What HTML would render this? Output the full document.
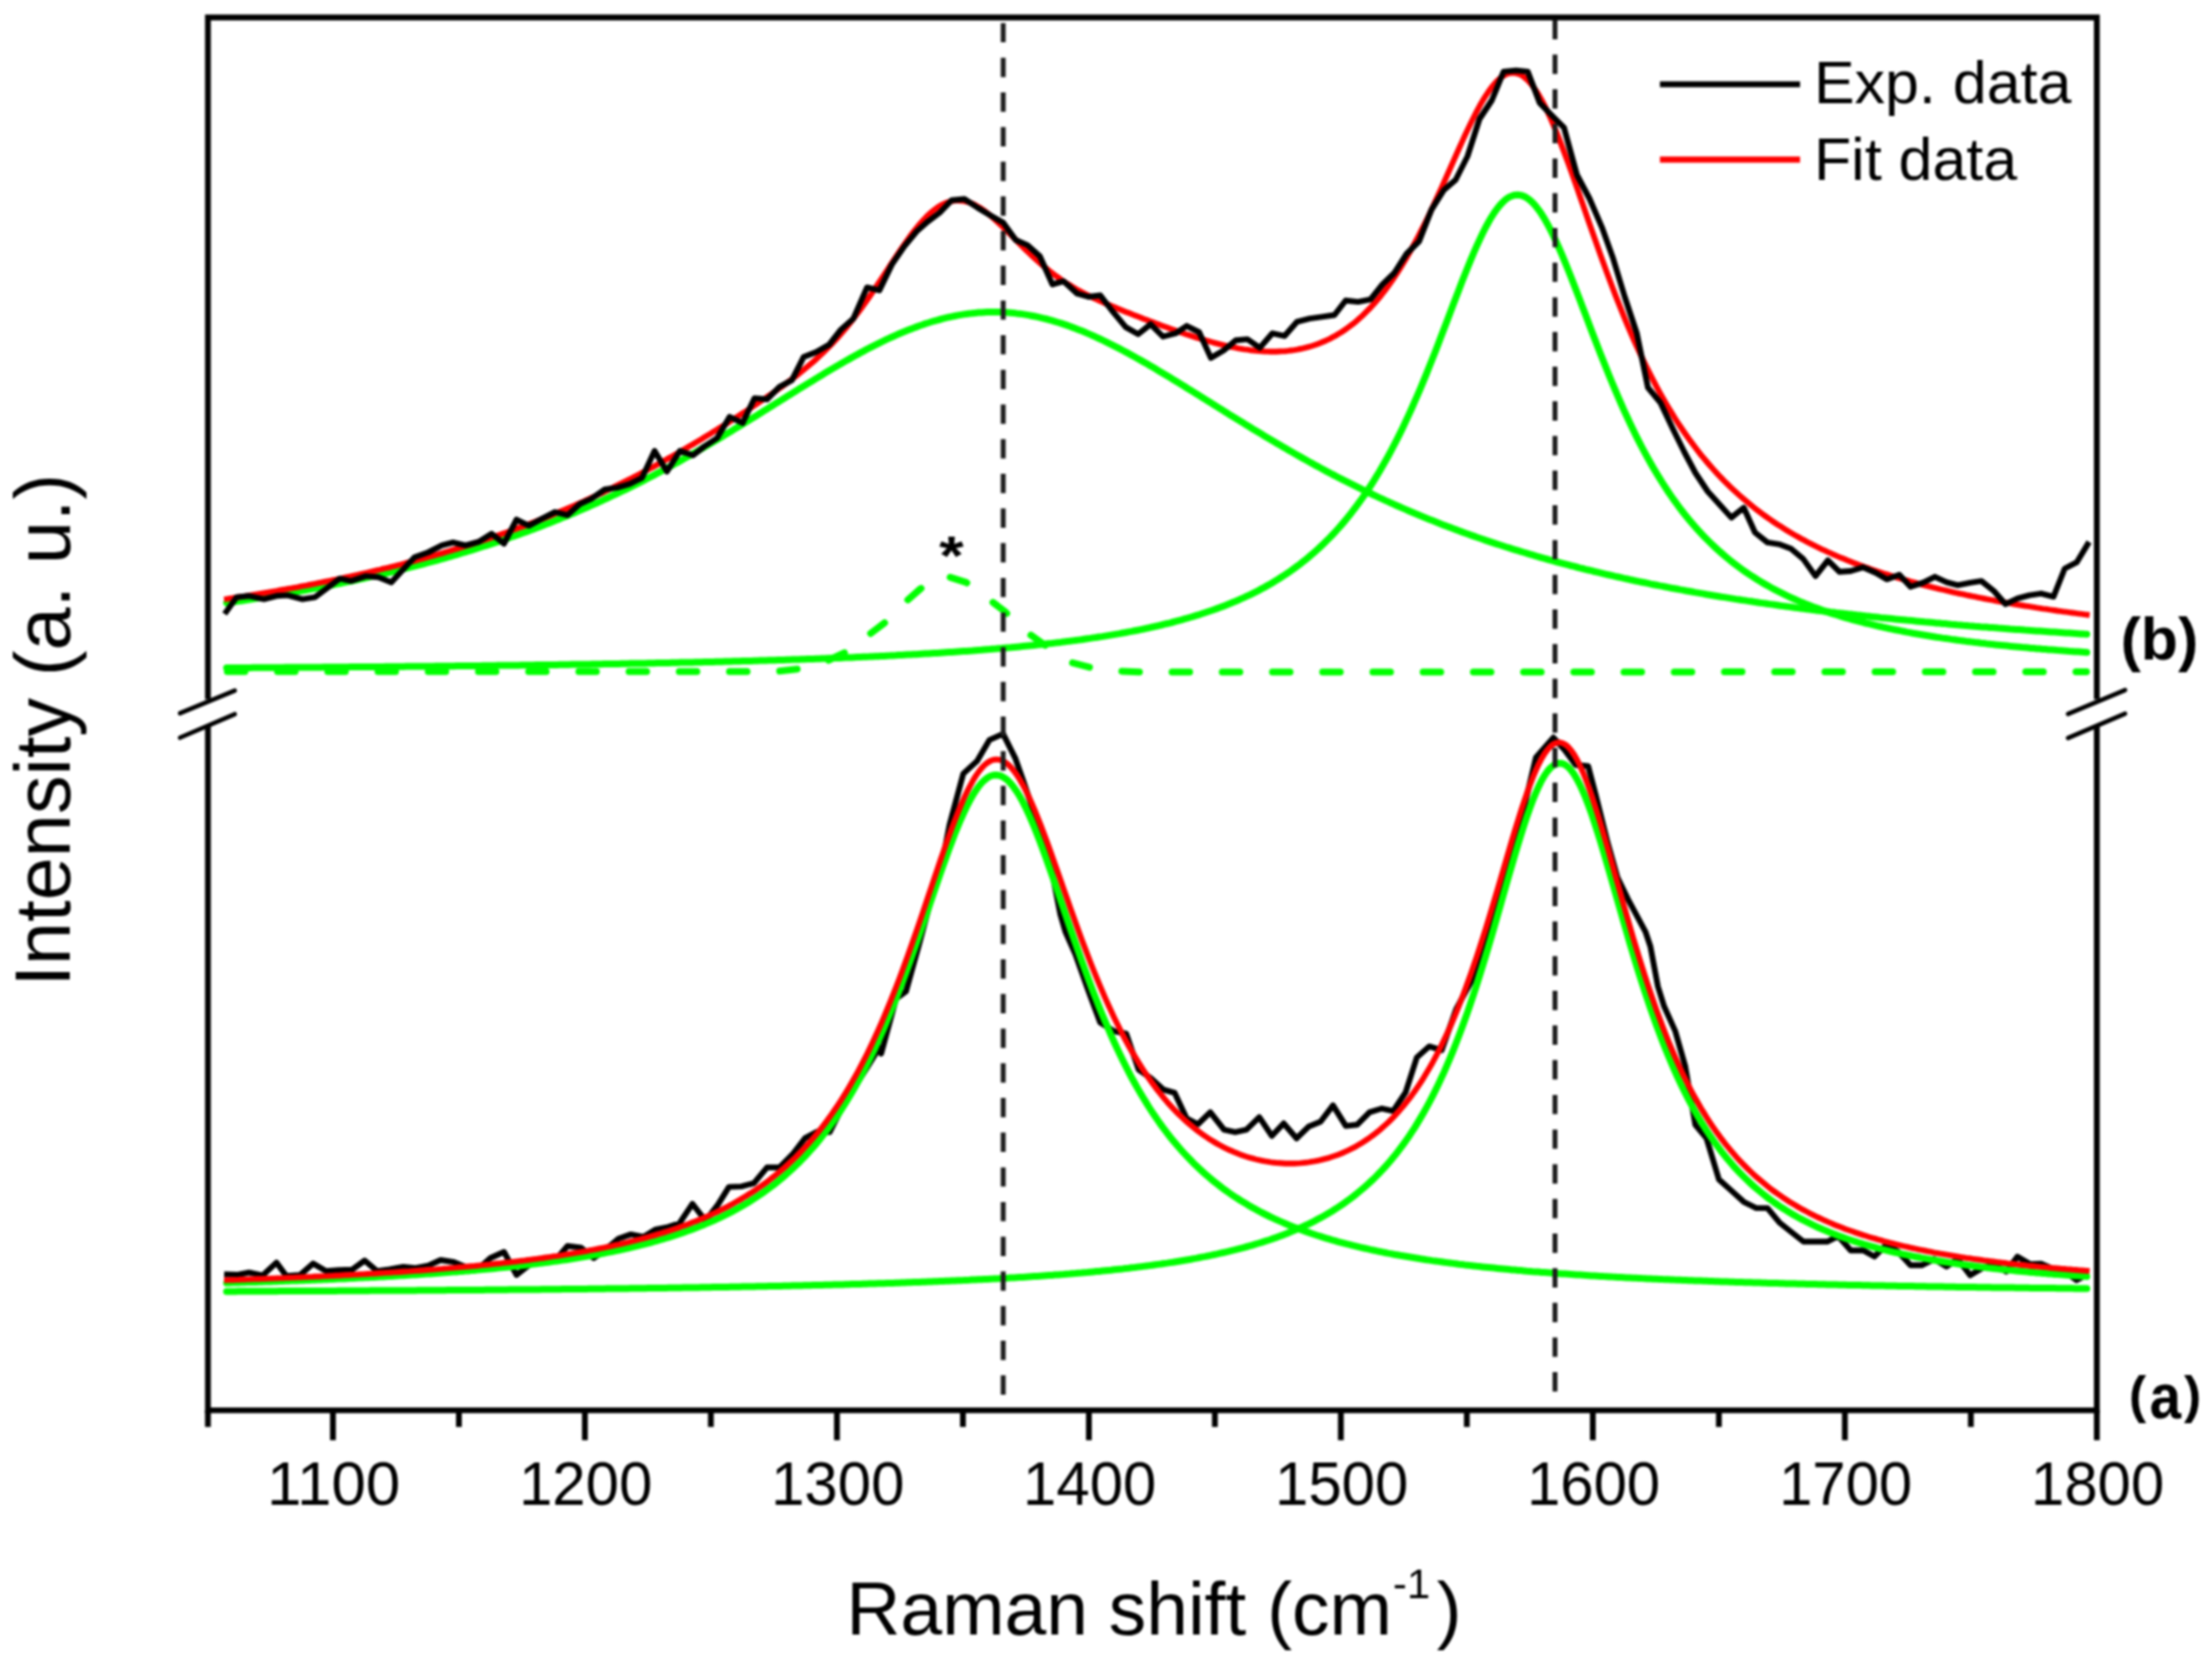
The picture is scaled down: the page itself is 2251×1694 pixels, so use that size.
<!DOCTYPE html>
<html lang="en">
<head>
<meta charset="utf-8">
<title>Raman spectra: experimental and fitted data</title>
<style>
html,body{margin:0;padding:0;background:#fff;}
body{width:2251px;height:1694px;overflow:hidden;}
svg{display:block;}
</style>
</head>
<body>
<svg width="2251" height="1694" viewBox="0 0 2251 1694">
<defs><filter id="soft" x="0" y="0" width="100%" height="100%" filterUnits="userSpaceOnUse" color-interpolation-filters="sRGB"><feGaussianBlur stdDeviation="0.8"/></filter></defs>
<rect width="2251" height="1694" fill="#fff"/>
<g filter="url(#soft)">
<rect width="2251" height="1694" fill="#fff"/>
<g fill="none" stroke-linejoin="round" stroke-linecap="butt">
<path id="star-b" d="M228.0,683.3 L788.6,683.3 L813.9,680.5 L841.8,672.4 L862.0,662.8 L879.7,649.1 L900.0,633.9 L916.5,616.7 L936.7,599.0 L953.2,588.4 L962.0,585.8 L983.5,592.7 L1003.8,607.8 L1022.8,622.3 L1043.0,642.0 L1064.6,657.2 L1088.6,673.7 L1112.7,680.0 L1139.2,682.8 L1163.3,683.8 L2123.3,683.5" stroke="#00ff00" stroke-width="7.0" stroke-linecap="round" stroke-dasharray="17.9 33.2" stroke-dashoffset="-3.35"/>
<path id="d-b" d="M230.6,613.4 L233.6,613.0 L236.6,612.5 L239.6,612.1 L242.6,611.6 L245.6,611.2 L248.6,610.7 L251.6,610.3 L254.6,609.8 L257.6,609.3 L260.6,608.9 L263.6,608.4 L266.6,607.9 L269.6,607.4 L272.6,606.9 L275.6,606.4 L278.6,605.9 L281.6,605.4 L284.6,604.9 L287.6,604.4 L290.6,603.9 L293.6,603.4 L296.6,602.9 L299.6,602.3 L302.6,601.8 L305.6,601.2 L308.6,600.7 L311.6,600.2 L314.6,599.6 L317.6,599.0 L320.6,598.5 L323.6,597.9 L326.6,597.3 L329.6,596.8 L332.6,596.2 L335.6,595.6 L338.6,595.0 L341.6,594.4 L344.6,593.8 L347.6,593.2 L350.6,592.5 L353.6,591.9 L356.6,591.3 L359.6,590.7 L362.6,590.0 L365.6,589.4 L368.6,588.7 L371.6,588.1 L374.6,587.4 L377.6,586.7 L380.6,586.0 L383.6,585.4 L386.6,584.7 L389.6,584.0 L392.6,583.3 L395.6,582.6 L398.6,581.8 L401.6,581.1 L404.6,580.4 L407.6,579.7 L410.6,578.9 L413.6,578.2 L416.6,577.4 L419.6,576.7 L422.6,575.9 L425.6,575.1 L428.6,574.3 L431.6,573.5 L434.6,572.7 L437.6,571.9 L440.6,571.1 L443.6,570.3 L446.6,569.5 L449.6,568.6 L452.6,567.8 L455.6,566.9 L458.6,566.1 L461.6,565.2 L464.6,564.3 L467.6,563.4 L470.6,562.5 L473.6,561.6 L476.6,560.7 L479.6,559.8 L482.6,558.9 L485.6,557.9 L488.6,557.0 L491.6,556.0 L494.6,555.1 L497.6,554.1 L500.6,553.1 L503.6,552.1 L506.6,551.1 L509.6,550.1 L512.6,549.1 L515.6,548.1 L518.6,547.0 L521.6,546.0 L524.6,544.9 L527.6,543.9 L530.6,542.8 L533.6,541.7 L536.6,540.6 L539.6,539.5 L542.6,538.4 L545.6,537.2 L548.6,536.1 L551.6,535.0 L554.6,533.8 L557.6,532.6 L560.6,531.5 L563.6,530.3 L566.6,529.1 L569.6,527.9 L572.6,526.6 L575.6,525.4 L578.6,524.2 L581.6,522.9 L584.6,521.7 L587.6,520.4 L590.6,519.1 L593.6,517.8 L596.6,516.5 L599.6,515.2 L602.6,513.8 L605.6,512.5 L608.6,511.2 L611.6,509.8 L614.6,508.4 L617.6,507.0 L620.6,505.6 L623.6,504.2 L626.6,502.8 L629.6,501.4 L632.6,499.9 L635.6,498.5 L638.6,497.0 L641.6,495.5 L644.6,494.0 L647.6,492.5 L650.6,491.0 L653.6,489.5 L656.6,488.0 L659.6,486.4 L662.6,484.9 L665.6,483.3 L668.6,481.7 L671.6,480.1 L674.6,478.5 L677.6,476.9 L680.6,475.3 L683.6,473.7 L686.6,472.0 L689.6,470.4 L692.6,468.7 L695.6,467.0 L698.6,465.3 L701.6,463.6 L704.6,461.9 L707.6,460.2 L710.6,458.5 L713.6,456.8 L716.6,455.0 L719.6,453.3 L722.6,451.5 L725.6,449.7 L728.6,448.0 L731.6,446.2 L734.6,444.4 L737.6,442.6 L740.6,440.8 L743.6,439.0 L746.6,437.1 L749.6,435.3 L752.6,433.5 L755.6,431.6 L758.6,429.8 L761.6,427.9 L764.6,426.1 L767.6,424.2 L770.6,422.4 L773.6,420.5 L776.6,418.6 L779.6,416.8 L782.6,414.9 L785.6,413.0 L788.6,411.1 L791.6,409.3 L794.6,407.4 L797.6,405.5 L800.6,403.6 L803.6,401.8 L806.6,399.9 L809.6,398.0 L812.6,396.1 L815.6,394.3 L818.6,392.4 L821.6,390.6 L824.6,388.7 L827.6,386.9 L830.6,385.1 L833.6,383.2 L836.6,381.4 L839.6,379.6 L842.6,377.8 L845.6,376.0 L848.6,374.3 L851.6,372.5 L854.6,370.8 L857.6,369.0 L860.6,367.3 L863.6,365.6 L866.6,363.9 L869.6,362.2 L872.6,360.6 L875.6,358.9 L878.6,357.3 L881.6,355.7 L884.6,354.2 L887.6,352.6 L890.6,351.1 L893.6,349.6 L896.6,348.1 L899.6,346.7 L902.6,345.2 L905.6,343.8 L908.6,342.5 L911.6,341.1 L914.6,339.8 L917.6,338.5 L920.6,337.3 L923.6,336.0 L926.6,334.9 L929.6,333.7 L932.6,332.6 L935.6,331.5 L938.6,330.5 L941.6,329.4 L944.6,328.5 L947.6,327.5 L950.6,326.6 L953.6,325.8 L956.6,325.0 L959.6,324.2 L962.6,323.4 L965.6,322.7 L968.6,322.1 L971.6,321.5 L974.6,320.9 L977.6,320.4 L980.6,319.9 L983.6,319.4 L986.6,319.1 L989.6,318.7 L992.6,318.4 L995.6,318.1 L998.6,317.9 L1001.6,317.7 L1004.6,317.6 L1007.6,317.5 L1010.6,317.5 L1013.6,317.5 L1016.6,317.6 L1019.6,317.7 L1022.6,317.8 L1025.6,318.0 L1028.6,318.2 L1031.6,318.5 L1034.6,318.9 L1037.6,319.2 L1040.6,319.6 L1043.6,320.1 L1046.6,320.6 L1049.6,321.2 L1052.6,321.8 L1055.6,322.4 L1058.6,323.1 L1061.6,323.8 L1064.6,324.5 L1067.6,325.3 L1070.6,326.2 L1073.6,327.1 L1076.6,328.0 L1079.6,328.9 L1082.6,329.9 L1085.6,330.9 L1088.6,332.0 L1091.6,333.1 L1094.6,334.2 L1097.6,335.4 L1100.6,336.6 L1103.6,337.8 L1106.6,339.1 L1109.6,340.4 L1112.6,341.7 L1115.6,343.1 L1118.6,344.5 L1121.6,345.9 L1124.6,347.3 L1127.6,348.8 L1130.6,350.3 L1133.6,351.8 L1136.6,353.3 L1139.6,354.9 L1142.6,356.5 L1145.6,358.1 L1148.6,359.7 L1151.6,361.4 L1154.6,363.0 L1157.6,364.7 L1160.6,366.4 L1163.6,368.1 L1166.6,369.8 L1169.6,371.6 L1172.6,373.3 L1175.6,375.1 L1178.6,376.9 L1181.6,378.7 L1184.6,380.5 L1187.6,382.3 L1190.6,384.1 L1193.6,385.9 L1196.6,387.7 L1199.6,389.6 L1202.6,391.4 L1205.6,393.3 L1208.6,395.2 L1211.6,397.0 L1214.6,398.9 L1217.6,400.8 L1220.6,402.6 L1223.6,404.5 L1226.6,406.4 L1229.6,408.3 L1232.6,410.1 L1235.6,412.0 L1238.6,413.9 L1241.6,415.8 L1244.6,417.6 L1247.6,419.5 L1250.6,421.4 L1253.6,423.2 L1256.6,425.1 L1259.6,426.9 L1262.6,428.8 L1265.6,430.6 L1268.6,432.5 L1271.6,434.3 L1274.6,436.2 L1277.6,438.0 L1280.6,439.8 L1283.6,441.6 L1286.6,443.4 L1289.6,445.2 L1292.6,447.0 L1295.6,448.8 L1298.6,450.6 L1301.6,452.3 L1304.6,454.1 L1307.6,455.8 L1310.6,457.6 L1313.6,459.3 L1316.6,461.0 L1319.6,462.7 L1322.6,464.4 L1325.6,466.1 L1328.6,467.8 L1331.6,469.5 L1334.6,471.1 L1337.6,472.8 L1340.6,474.4 L1343.6,476.0 L1346.6,477.7 L1349.6,479.3 L1352.6,480.9 L1355.6,482.5 L1358.6,484.0 L1361.6,485.6 L1364.6,487.1 L1367.6,488.7 L1370.6,490.2 L1373.6,491.7 L1376.6,493.2 L1379.6,494.7 L1382.6,496.2 L1385.6,497.7 L1388.6,499.1 L1391.6,500.6 L1394.6,502.0 L1397.6,503.5 L1400.6,504.9 L1403.6,506.3 L1406.6,507.7 L1409.6,509.1 L1412.6,510.4 L1415.6,511.8 L1418.6,513.1 L1421.6,514.5 L1424.6,515.8 L1427.6,517.1 L1430.6,518.4 L1433.6,519.7 L1436.6,521.0 L1439.6,522.3 L1442.6,523.5 L1445.6,524.8 L1448.6,526.0 L1451.6,527.2 L1454.6,528.4 L1457.6,529.6 L1460.6,530.8 L1463.6,532.0 L1466.6,533.2 L1469.6,534.4 L1472.6,535.5 L1475.6,536.6 L1478.6,537.8 L1481.6,538.9 L1484.6,540.0 L1487.6,541.1 L1490.6,542.2 L1493.6,543.3 L1496.6,544.4 L1499.6,545.4 L1502.6,546.5 L1505.6,547.5 L1508.6,548.5 L1511.6,549.6 L1514.6,550.6 L1517.6,551.6 L1520.6,552.6 L1523.6,553.6 L1526.6,554.5 L1529.6,555.5 L1532.6,556.5 L1535.6,557.4 L1538.6,558.4 L1541.6,559.3 L1544.6,560.2 L1547.6,561.1 L1550.6,562.0 L1553.6,562.9 L1556.6,563.8 L1559.6,564.7 L1562.6,565.6 L1565.6,566.5 L1568.6,567.3 L1571.6,568.2 L1574.6,569.0 L1577.6,569.8 L1580.6,570.7 L1583.6,571.5 L1586.6,572.3 L1589.6,573.1 L1592.6,573.9 L1595.6,574.7 L1598.6,575.5 L1601.6,576.2 L1604.6,577.0 L1607.6,577.8 L1610.6,578.5 L1613.6,579.3 L1616.6,580.0 L1619.6,580.7 L1622.6,581.5 L1625.6,582.2 L1628.6,582.9 L1631.6,583.6 L1634.6,584.3 L1637.6,585.0 L1640.6,585.7 L1643.6,586.4 L1646.6,587.0 L1649.6,587.7 L1652.6,588.4 L1655.6,589.0 L1658.6,589.7 L1661.6,590.3 L1664.6,591.0 L1667.6,591.6 L1670.6,592.2 L1673.6,592.8 L1676.6,593.4 L1679.6,594.1 L1682.6,594.7 L1685.6,595.3 L1688.6,595.9 L1691.6,596.4 L1694.6,597.0 L1697.6,597.6 L1700.6,598.2 L1703.6,598.7 L1706.6,599.3 L1709.6,599.9 L1712.6,600.4 L1715.6,601.0 L1718.6,601.5 L1721.6,602.0 L1724.6,602.6 L1727.6,603.1 L1730.6,603.6 L1733.6,604.1 L1736.6,604.7 L1739.6,605.2 L1742.6,605.7 L1745.6,606.2 L1748.6,606.7 L1751.6,607.2 L1754.6,607.6 L1757.6,608.1 L1760.6,608.6 L1763.6,609.1 L1766.6,609.6 L1769.6,610.0 L1772.6,610.5 L1775.6,610.9 L1778.6,611.4 L1781.6,611.8 L1784.6,612.3 L1787.6,612.7 L1790.6,613.2 L1793.6,613.6 L1796.6,614.0 L1799.6,614.5 L1802.6,614.9 L1805.6,615.3 L1808.6,615.7 L1811.6,616.2 L1814.6,616.6 L1817.6,617.0 L1820.6,617.4 L1823.6,617.8 L1826.6,618.2 L1829.6,618.6 L1832.6,619.0 L1835.6,619.3 L1838.6,619.7 L1841.6,620.1 L1844.6,620.5 L1847.6,620.9 L1850.6,621.2 L1853.6,621.6 L1856.6,622.0 L1859.6,622.3 L1862.6,622.7 L1865.6,623.0 L1868.6,623.4 L1871.6,623.7 L1874.6,624.1 L1877.6,624.4 L1880.6,624.8 L1883.6,625.1 L1886.6,625.4 L1889.6,625.8 L1892.6,626.1 L1895.6,626.4 L1898.6,626.8 L1901.6,627.1 L1904.6,627.4 L1907.6,627.7 L1910.6,628.0 L1913.6,628.4 L1916.6,628.7 L1919.6,629.0 L1922.6,629.3 L1925.6,629.6 L1928.6,629.9 L1931.6,630.2 L1934.6,630.5 L1937.6,630.8 L1940.6,631.1 L1943.6,631.3 L1946.6,631.6 L1949.6,631.9 L1952.6,632.2 L1955.6,632.5 L1958.6,632.8 L1961.6,633.0 L1964.6,633.3 L1967.6,633.6 L1970.6,633.9 L1973.6,634.1 L1976.6,634.4 L1979.6,634.6 L1982.6,634.9 L1985.6,635.2 L1988.6,635.4 L1991.6,635.7 L1994.6,635.9 L1997.6,636.2 L2000.6,636.4 L2003.6,636.7 L2006.6,636.9 L2009.6,637.2 L2012.6,637.4 L2015.6,637.7 L2018.6,637.9 L2021.6,638.1 L2024.6,638.4 L2027.6,638.6 L2030.6,638.8 L2033.6,639.1 L2036.6,639.3 L2039.6,639.5 L2042.6,639.7 L2045.6,640.0 L2048.6,640.2 L2051.6,640.4 L2054.6,640.6 L2057.6,640.8 L2060.6,641.1 L2063.6,641.3 L2066.6,641.5 L2069.6,641.7 L2072.6,641.9 L2075.6,642.1 L2078.6,642.3 L2081.6,642.5 L2084.6,642.7 L2087.6,642.9 L2090.6,643.1 L2093.6,643.3 L2096.6,643.5 L2099.6,643.7 L2102.6,643.9 L2105.6,644.1 L2108.6,644.3 L2111.6,644.5 L2114.6,644.7 L2117.6,644.9 L2120.6,645.1 L2123.6,645.2" stroke="#00ff00" stroke-width="7.0" stroke-linecap="round"/>
<path id="g-b" d="M230.6,679.5 L233.6,679.5 L236.6,679.5 L239.6,679.5 L242.6,679.4 L245.6,679.4 L248.6,679.4 L251.6,679.4 L254.6,679.4 L257.6,679.3 L260.6,679.3 L263.6,679.3 L266.6,679.3 L269.6,679.3 L272.6,679.3 L275.6,679.2 L278.6,679.2 L281.6,679.2 L284.6,679.2 L287.6,679.2 L290.6,679.1 L293.6,679.1 L296.6,679.1 L299.6,679.1 L302.6,679.0 L305.6,679.0 L308.6,679.0 L311.6,679.0 L314.6,679.0 L317.6,678.9 L320.6,678.9 L323.6,678.9 L326.6,678.9 L329.6,678.8 L332.6,678.8 L335.6,678.8 L338.6,678.8 L341.6,678.8 L344.6,678.7 L347.6,678.7 L350.6,678.7 L353.6,678.7 L356.6,678.6 L359.6,678.6 L362.6,678.6 L365.6,678.6 L368.6,678.5 L371.6,678.5 L374.6,678.5 L377.6,678.5 L380.6,678.4 L383.6,678.4 L386.6,678.4 L389.6,678.4 L392.6,678.3 L395.6,678.3 L398.6,678.3 L401.6,678.2 L404.6,678.2 L407.6,678.2 L410.6,678.2 L413.6,678.1 L416.6,678.1 L419.6,678.1 L422.6,678.1 L425.6,678.0 L428.6,678.0 L431.6,678.0 L434.6,677.9 L437.6,677.9 L440.6,677.9 L443.6,677.8 L446.6,677.8 L449.6,677.8 L452.6,677.8 L455.6,677.7 L458.6,677.7 L461.6,677.7 L464.6,677.6 L467.6,677.6 L470.6,677.6 L473.6,677.5 L476.6,677.5 L479.6,677.5 L482.6,677.4 L485.6,677.4 L488.6,677.4 L491.6,677.3 L494.6,677.3 L497.6,677.3 L500.6,677.2 L503.6,677.2 L506.6,677.1 L509.6,677.1 L512.6,677.1 L515.6,677.0 L518.6,677.0 L521.6,677.0 L524.6,676.9 L527.6,676.9 L530.6,676.8 L533.6,676.8 L536.6,676.8 L539.6,676.7 L542.6,676.7 L545.6,676.6 L548.6,676.6 L551.6,676.6 L554.6,676.5 L557.6,676.5 L560.6,676.4 L563.6,676.4 L566.6,676.4 L569.6,676.3 L572.6,676.3 L575.6,676.2 L578.6,676.2 L581.6,676.1 L584.6,676.1 L587.6,676.0 L590.6,676.0 L593.6,676.0 L596.6,675.9 L599.6,675.9 L602.6,675.8 L605.6,675.8 L608.6,675.7 L611.6,675.7 L614.6,675.6 L617.6,675.6 L620.6,675.5 L623.6,675.5 L626.6,675.4 L629.6,675.4 L632.6,675.3 L635.6,675.2 L638.6,675.2 L641.6,675.1 L644.6,675.1 L647.6,675.0 L650.6,675.0 L653.6,674.9 L656.6,674.9 L659.6,674.8 L662.6,674.7 L665.6,674.7 L668.6,674.6 L671.6,674.6 L674.6,674.5 L677.6,674.4 L680.6,674.4 L683.6,674.3 L686.6,674.3 L689.6,674.2 L692.6,674.1 L695.6,674.1 L698.6,674.0 L701.6,673.9 L704.6,673.9 L707.6,673.8 L710.6,673.7 L713.6,673.7 L716.6,673.6 L719.6,673.5 L722.6,673.4 L725.6,673.4 L728.6,673.3 L731.6,673.2 L734.6,673.2 L737.6,673.1 L740.6,673.0 L743.6,672.9 L746.6,672.8 L749.6,672.8 L752.6,672.7 L755.6,672.6 L758.6,672.5 L761.6,672.4 L764.6,672.4 L767.6,672.3 L770.6,672.2 L773.6,672.1 L776.6,672.0 L779.6,671.9 L782.6,671.8 L785.6,671.7 L788.6,671.7 L791.6,671.6 L794.6,671.5 L797.6,671.4 L800.6,671.3 L803.6,671.2 L806.6,671.1 L809.6,671.0 L812.6,670.9 L815.6,670.8 L818.6,670.7 L821.6,670.6 L824.6,670.5 L827.6,670.4 L830.6,670.3 L833.6,670.2 L836.6,670.0 L839.6,669.9 L842.6,669.8 L845.6,669.7 L848.6,669.6 L851.6,669.5 L854.6,669.4 L857.6,669.2 L860.6,669.1 L863.6,669.0 L866.6,668.9 L869.6,668.7 L872.6,668.6 L875.6,668.5 L878.6,668.3 L881.6,668.2 L884.6,668.1 L887.6,667.9 L890.6,667.8 L893.6,667.7 L896.6,667.5 L899.6,667.4 L902.6,667.2 L905.6,667.1 L908.6,666.9 L911.6,666.8 L914.6,666.6 L917.6,666.5 L920.6,666.3 L923.6,666.1 L926.6,666.0 L929.6,665.8 L932.6,665.7 L935.6,665.5 L938.6,665.3 L941.6,665.1 L944.6,665.0 L947.6,664.8 L950.6,664.6 L953.6,664.4 L956.6,664.2 L959.6,664.0 L962.6,663.8 L965.6,663.6 L968.6,663.4 L971.6,663.2 L974.6,663.0 L977.6,662.8 L980.6,662.6 L983.6,662.4 L986.6,662.2 L989.6,662.0 L992.6,661.7 L995.6,661.5 L998.6,661.3 L1001.6,661.0 L1004.6,660.8 L1007.6,660.6 L1010.6,660.3 L1013.6,660.1 L1016.6,659.8 L1019.6,659.6 L1022.6,659.3 L1025.6,659.0 L1028.6,658.8 L1031.6,658.5 L1034.6,658.2 L1037.6,657.9 L1040.6,657.6 L1043.6,657.3 L1046.6,657.0 L1049.6,656.7 L1052.6,656.4 L1055.6,656.1 L1058.6,655.8 L1061.6,655.5 L1064.6,655.1 L1067.6,654.8 L1070.6,654.5 L1073.6,654.1 L1076.6,653.7 L1079.6,653.4 L1082.6,653.0 L1085.6,652.6 L1088.6,652.3 L1091.6,651.9 L1094.6,651.5 L1097.6,651.1 L1100.6,650.7 L1103.6,650.2 L1106.6,649.8 L1109.6,649.4 L1112.6,648.9 L1115.6,648.5 L1118.6,648.0 L1121.6,647.6 L1124.6,647.1 L1127.6,646.6 L1130.6,646.1 L1133.6,645.6 L1136.6,645.1 L1139.6,644.6 L1142.6,644.0 L1145.6,643.5 L1148.6,642.9 L1151.6,642.4 L1154.6,641.8 L1157.6,641.2 L1160.6,640.6 L1163.6,640.0 L1166.6,639.3 L1169.6,638.7 L1172.6,638.0 L1175.6,637.3 L1178.6,636.7 L1181.6,636.0 L1184.6,635.2 L1187.6,634.5 L1190.6,633.8 L1193.6,633.0 L1196.6,632.2 L1199.6,631.4 L1202.6,630.6 L1205.6,629.7 L1208.6,628.9 L1211.6,628.0 L1214.6,627.1 L1217.6,626.2 L1220.6,625.3 L1223.6,624.3 L1226.6,623.3 L1229.6,622.3 L1232.6,621.3 L1235.6,620.2 L1238.6,619.1 L1241.6,618.0 L1244.6,616.9 L1247.6,615.7 L1250.6,614.5 L1253.6,613.3 L1256.6,612.1 L1259.6,610.8 L1262.6,609.4 L1265.6,608.1 L1268.6,606.7 L1271.6,605.3 L1274.6,603.8 L1277.6,602.3 L1280.6,600.8 L1283.6,599.2 L1286.6,597.6 L1289.6,595.9 L1292.6,594.2 L1295.6,592.4 L1298.6,590.6 L1301.6,588.7 L1304.6,586.8 L1307.6,584.9 L1310.6,582.8 L1313.6,580.8 L1316.6,578.6 L1319.6,576.4 L1322.6,574.2 L1325.6,571.8 L1328.6,569.4 L1331.6,567.0 L1334.6,564.4 L1337.6,561.8 L1340.6,559.2 L1343.6,556.4 L1346.6,553.5 L1349.6,550.6 L1352.6,547.6 L1355.6,544.5 L1358.6,541.3 L1361.6,538.0 L1364.6,534.6 L1367.6,531.1 L1370.6,527.5 L1373.6,523.8 L1376.6,519.9 L1379.6,516.0 L1382.6,511.9 L1385.6,507.8 L1388.6,503.5 L1391.6,499.0 L1394.6,494.5 L1397.6,489.8 L1400.6,484.9 L1403.6,480.0 L1406.6,474.8 L1409.6,469.6 L1412.6,464.2 L1415.6,458.6 L1418.6,452.9 L1421.6,447.1 L1424.6,441.1 L1427.6,434.9 L1430.6,428.6 L1433.6,422.1 L1436.6,415.5 L1439.6,408.7 L1442.6,401.8 L1445.6,394.8 L1448.6,387.6 L1451.6,380.3 L1454.6,372.8 L1457.6,365.3 L1460.6,357.7 L1463.6,349.9 L1466.6,342.1 L1469.6,334.3 L1472.6,326.4 L1475.6,318.5 L1478.6,310.6 L1481.6,302.7 L1484.6,294.9 L1487.6,287.1 L1490.6,279.5 L1493.6,272.0 L1496.6,264.7 L1499.6,257.5 L1502.6,250.7 L1505.6,244.1 L1508.6,237.8 L1511.6,231.8 L1514.6,226.3 L1517.6,221.1 L1520.6,216.4 L1523.6,212.2 L1526.6,208.5 L1529.6,205.3 L1532.6,202.7 L1535.6,200.7 L1538.6,199.3 L1541.6,198.4 L1544.6,198.2 L1547.6,198.6 L1550.6,199.6 L1553.6,201.2 L1556.6,203.4 L1559.6,206.1 L1562.6,209.4 L1565.6,213.3 L1568.6,217.6 L1571.6,222.4 L1574.6,227.7 L1577.6,233.4 L1580.6,239.4 L1583.6,245.8 L1586.6,252.5 L1589.6,259.4 L1592.6,266.6 L1595.6,274.0 L1598.6,281.5 L1601.6,289.2 L1604.6,297.0 L1607.6,304.8 L1610.6,312.7 L1613.6,320.6 L1616.6,328.5 L1619.6,336.4 L1622.6,344.2 L1625.6,352.0 L1628.6,359.7 L1631.6,367.3 L1634.6,374.8 L1637.6,382.2 L1640.6,389.5 L1643.6,396.7 L1646.6,403.7 L1649.6,410.5 L1652.6,417.3 L1655.6,423.8 L1658.6,430.3 L1661.6,436.5 L1664.6,442.7 L1667.6,448.6 L1670.6,454.5 L1673.6,460.1 L1676.6,465.6 L1679.6,471.0 L1682.6,476.2 L1685.6,481.3 L1688.6,486.2 L1691.6,491.0 L1694.6,495.7 L1697.6,500.2 L1700.6,504.6 L1703.6,508.9 L1706.6,513.0 L1709.6,517.1 L1712.6,521.0 L1715.6,524.8 L1718.6,528.4 L1721.6,532.0 L1724.6,535.5 L1727.6,538.9 L1730.6,542.1 L1733.6,545.3 L1736.6,548.4 L1739.6,551.4 L1742.6,554.3 L1745.6,557.1 L1748.6,559.9 L1751.6,562.5 L1754.6,565.1 L1757.6,567.6 L1760.6,570.1 L1763.6,572.5 L1766.6,574.8 L1769.6,577.0 L1772.6,579.2 L1775.6,581.3 L1778.6,583.4 L1781.6,585.4 L1784.6,587.3 L1787.6,589.2 L1790.6,591.1 L1793.6,592.9 L1796.6,594.6 L1799.6,596.3 L1802.6,598.0 L1805.6,599.6 L1808.6,601.2 L1811.6,602.7 L1814.6,604.2 L1817.6,605.7 L1820.6,607.1 L1823.6,608.5 L1826.6,609.8 L1829.6,611.1 L1832.6,612.4 L1835.6,613.6 L1838.6,614.9 L1841.6,616.0 L1844.6,617.2 L1847.6,618.3 L1850.6,619.4 L1853.6,620.5 L1856.6,621.6 L1859.6,622.6 L1862.6,623.6 L1865.6,624.6 L1868.6,625.5 L1871.6,626.4 L1874.6,627.4 L1877.6,628.3 L1880.6,629.1 L1883.6,630.0 L1886.6,630.8 L1889.6,631.6 L1892.6,632.4 L1895.6,633.2 L1898.6,634.0 L1901.6,634.7 L1904.6,635.4 L1907.6,636.1 L1910.6,636.8 L1913.6,637.5 L1916.6,638.2 L1919.6,638.8 L1922.6,639.5 L1925.6,640.1 L1928.6,640.7 L1931.6,641.3 L1934.6,641.9 L1937.6,642.5 L1940.6,643.1 L1943.6,643.6 L1946.6,644.2 L1949.6,644.7 L1952.6,645.2 L1955.6,645.7 L1958.6,646.2 L1961.6,646.7 L1964.6,647.2 L1967.6,647.7 L1970.6,648.2 L1973.6,648.6 L1976.6,649.1 L1979.6,649.5 L1982.6,649.9 L1985.6,650.4 L1988.6,650.8 L1991.6,651.2 L1994.6,651.6 L1997.6,652.0 L2000.6,652.4 L2003.6,652.7 L2006.6,653.1 L2009.6,653.5 L2012.6,653.8 L2015.6,654.2 L2018.6,654.5 L2021.6,654.9 L2024.6,655.2 L2027.6,655.6 L2030.6,655.9 L2033.6,656.2 L2036.6,656.5 L2039.6,656.8 L2042.6,657.1 L2045.6,657.4 L2048.6,657.7 L2051.6,658.0 L2054.6,658.3 L2057.6,658.6 L2060.6,658.8 L2063.6,659.1 L2066.6,659.4 L2069.6,659.6 L2072.6,659.9 L2075.6,660.1 L2078.6,660.4 L2081.6,660.6 L2084.6,660.9 L2087.6,661.1 L2090.6,661.3 L2093.6,661.6 L2096.6,661.8 L2099.6,662.0 L2102.6,662.2 L2105.6,662.5 L2108.6,662.7 L2111.6,662.9 L2114.6,663.1 L2117.6,663.3 L2120.6,663.5 L2123.6,663.7" stroke="#00ff00" stroke-width="7.0" stroke-linecap="round"/>
<path id="fit-b" d="M228.0,609.8 L231.0,609.4 L234.0,608.9 L237.0,608.5 L240.0,608.0 L243.0,607.5 L246.0,607.0 L249.0,606.6 L252.0,606.1 L255.0,605.6 L258.0,605.1 L261.0,604.6 L264.0,604.1 L267.0,603.6 L270.0,603.1 L273.0,602.6 L276.0,602.1 L279.0,601.6 L282.0,601.1 L285.0,600.5 L288.0,600.0 L291.0,599.5 L294.0,598.9 L297.0,598.4 L300.0,597.8 L303.0,597.3 L306.0,596.7 L309.0,596.1 L312.0,595.6 L315.0,595.0 L318.0,594.4 L321.0,593.8 L324.0,593.2 L327.0,592.6 L330.0,592.0 L333.0,591.4 L336.0,590.8 L339.0,590.2 L342.0,589.6 L345.0,588.9 L348.0,588.3 L351.0,587.6 L354.0,587.0 L357.0,586.3 L360.0,585.7 L363.0,585.0 L366.0,584.3 L369.0,583.7 L372.0,583.0 L375.0,582.3 L378.0,581.6 L381.0,580.9 L384.0,580.2 L387.0,579.5 L390.0,578.7 L393.0,578.0 L396.0,577.3 L399.0,576.5 L402.0,575.8 L405.0,575.0 L408.0,574.3 L411.0,573.5 L414.0,572.7 L417.0,571.9 L420.0,571.1 L423.0,570.3 L426.0,569.5 L429.0,568.7 L432.0,567.9 L435.0,567.0 L438.0,566.2 L441.0,565.4 L444.0,564.5 L447.0,563.7 L450.0,562.8 L453.0,561.9 L456.0,561.0 L459.0,560.1 L462.0,559.2 L465.0,558.3 L468.0,557.4 L471.0,556.5 L474.0,555.5 L477.0,554.6 L480.0,553.6 L483.0,552.7 L486.0,551.7 L489.0,550.7 L492.0,549.7 L495.0,548.7 L498.0,547.7 L501.0,546.7 L504.0,545.7 L507.0,544.6 L510.0,543.6 L513.0,542.5 L516.0,541.5 L519.0,540.4 L522.0,539.3 L525.0,538.2 L528.0,537.1 L531.0,536.0 L534.0,534.9 L537.0,533.7 L540.0,532.6 L543.0,531.4 L546.0,530.2 L549.0,529.1 L552.0,527.9 L555.0,526.7 L558.0,525.5 L561.0,524.2 L564.0,523.0 L567.0,521.8 L570.0,520.5 L573.0,519.2 L576.0,518.0 L579.0,516.7 L582.0,515.4 L585.0,514.1 L588.0,512.8 L591.0,511.4 L594.0,510.1 L597.0,508.7 L600.0,507.3 L603.0,506.0 L606.0,504.6 L609.0,503.2 L612.0,501.8 L615.0,500.3 L618.0,498.9 L621.0,497.4 L624.0,496.0 L627.0,494.5 L630.0,493.0 L633.0,491.5 L636.0,490.0 L639.0,488.5 L642.0,487.0 L645.0,485.4 L648.0,483.9 L651.0,482.3 L654.0,480.7 L657.0,479.1 L660.0,477.5 L663.0,475.9 L666.0,474.3 L669.0,472.6 L672.0,471.0 L675.0,469.3 L678.0,467.6 L681.0,465.9 L684.0,464.2 L687.0,462.5 L690.0,460.8 L693.0,459.1 L696.0,457.3 L699.0,455.6 L702.0,453.8 L705.0,452.1 L708.0,450.3 L711.0,448.5 L714.0,446.7 L717.0,444.8 L720.0,443.0 L723.0,441.2 L726.0,439.3 L729.0,437.5 L732.0,435.6 L735.0,433.7 L738.0,431.9 L741.0,430.0 L744.0,428.1 L747.0,426.1 L750.0,424.2 L753.0,422.3 L756.0,420.3 L759.0,418.4 L762.0,416.4 L765.0,414.4 L768.0,412.4 L771.0,410.4 L774.0,408.4 L777.0,406.4 L780.0,404.3 L783.0,402.3 L786.0,400.2 L789.0,398.1 L792.0,395.9 L795.0,393.8 L798.0,391.6 L801.0,389.4 L804.0,387.2 L807.0,384.9 L810.0,382.6 L813.0,380.2 L816.0,377.8 L819.0,375.3 L822.0,372.8 L825.0,370.3 L828.0,367.7 L831.0,365.0 L834.0,362.2 L837.0,359.4 L840.0,356.4 L843.0,353.4 L846.0,350.4 L849.0,347.2 L852.0,343.9 L855.0,340.6 L858.0,337.1 L861.0,333.5 L864.0,329.9 L867.0,326.1 L870.0,322.2 L873.0,318.3 L876.0,314.2 L879.0,310.1 L882.0,305.8 L885.0,301.5 L888.0,297.1 L891.0,292.7 L894.0,288.2 L897.0,283.7 L900.0,279.1 L903.0,274.5 L906.0,269.9 L909.0,265.4 L912.0,260.8 L915.0,256.3 L918.0,251.9 L921.0,247.6 L924.0,243.4 L927.0,239.3 L930.0,235.3 L933.0,231.6 L936.0,228.0 L939.0,224.6 L942.0,221.4 L945.0,218.4 L948.0,215.7 L951.0,213.3 L954.0,211.1 L957.0,209.2 L960.0,207.6 L963.0,206.3 L966.0,205.3 L969.0,204.6 L972.0,204.1 L975.0,204.0 L978.0,204.2 L981.0,204.6 L984.0,205.3 L987.0,206.3 L990.0,207.5 L993.0,209.0 L996.0,210.7 L999.0,212.6 L1002.0,214.7 L1005.0,217.0 L1008.0,219.4 L1011.0,222.0 L1014.0,224.7 L1017.0,227.5 L1020.0,230.3 L1023.0,233.3 L1026.0,236.2 L1029.0,239.3 L1032.0,242.3 L1035.0,245.3 L1038.0,248.3 L1041.0,251.3 L1044.0,254.3 L1047.0,257.2 L1050.0,260.0 L1053.0,262.8 L1056.0,265.6 L1059.0,268.2 L1062.0,270.8 L1065.0,273.3 L1068.0,275.7 L1071.0,278.1 L1074.0,280.3 L1077.0,282.5 L1080.0,284.6 L1083.0,286.6 L1086.0,288.6 L1089.0,290.4 L1092.0,292.2 L1095.0,294.0 L1098.0,295.7 L1101.0,297.3 L1104.0,298.9 L1107.0,300.4 L1110.0,301.9 L1113.0,303.3 L1116.0,304.7 L1119.0,306.1 L1122.0,307.4 L1125.0,308.7 L1128.0,310.0 L1131.0,311.3 L1134.0,312.5 L1137.0,313.8 L1140.0,315.0 L1143.0,316.2 L1146.0,317.4 L1149.0,318.6 L1152.0,319.8 L1155.0,320.9 L1158.0,322.1 L1161.0,323.2 L1164.0,324.4 L1167.0,325.5 L1170.0,326.7 L1173.0,327.8 L1176.0,328.9 L1179.0,330.0 L1182.0,331.2 L1185.0,332.3 L1188.0,333.3 L1191.0,334.4 L1194.0,335.5 L1197.0,336.6 L1200.0,337.6 L1203.0,338.6 L1206.0,339.7 L1209.0,340.7 L1212.0,341.6 L1215.0,342.6 L1218.0,343.6 L1221.0,344.5 L1224.0,345.4 L1227.0,346.3 L1230.0,347.2 L1233.0,348.0 L1236.0,348.8 L1239.0,349.6 L1242.0,350.4 L1245.0,351.1 L1248.0,351.8 L1251.0,352.5 L1254.0,353.1 L1257.0,353.7 L1260.0,354.3 L1263.0,354.8 L1266.0,355.3 L1269.0,355.7 L1272.0,356.2 L1275.0,356.5 L1278.0,356.8 L1281.0,357.1 L1284.0,357.3 L1287.0,357.5 L1290.0,357.6 L1293.0,357.7 L1296.0,357.7 L1299.0,357.7 L1302.0,357.5 L1305.0,357.4 L1308.0,357.2 L1311.0,356.9 L1314.0,356.5 L1317.0,356.1 L1320.0,355.6 L1323.0,355.0 L1326.0,354.4 L1329.0,353.6 L1332.0,352.8 L1335.0,352.0 L1338.0,351.0 L1341.0,349.9 L1344.0,348.8 L1347.0,347.5 L1350.0,346.2 L1353.0,344.8 L1356.0,343.2 L1359.0,341.6 L1362.0,339.8 L1365.0,338.0 L1368.0,336.0 L1371.0,333.9 L1374.0,331.7 L1377.0,329.4 L1380.0,326.9 L1383.0,324.3 L1386.0,321.6 L1389.0,318.7 L1392.0,315.7 L1395.0,312.6 L1398.0,309.3 L1401.0,305.8 L1404.0,302.3 L1407.0,298.5 L1410.0,294.6 L1413.0,290.6 L1416.0,286.3 L1419.0,282.0 L1422.0,277.4 L1425.0,272.7 L1428.0,267.8 L1431.0,262.8 L1434.0,257.6 L1437.0,252.2 L1440.0,246.7 L1443.0,241.1 L1446.0,235.2 L1449.0,229.3 L1452.0,223.2 L1455.0,216.9 L1458.0,210.6 L1461.0,204.1 L1464.0,197.6 L1467.0,190.9 L1470.0,184.2 L1473.0,177.5 L1476.0,170.7 L1479.0,164.0 L1482.0,157.2 L1485.0,150.5 L1488.0,143.9 L1491.0,137.3 L1494.0,130.9 L1497.0,124.7 L1500.0,118.7 L1503.0,112.9 L1506.0,107.3 L1509.0,102.1 L1512.0,97.3 L1515.0,92.8 L1518.0,88.7 L1521.0,85.0 L1524.0,81.9 L1527.0,79.2 L1530.0,77.1 L1533.0,75.5 L1536.0,74.5 L1539.0,74.1 L1542.0,74.3 L1545.0,75.1 L1548.0,76.4 L1551.0,78.4 L1554.0,81.0 L1557.0,84.2 L1560.0,87.9 L1563.0,92.1 L1566.0,96.9 L1569.0,102.2 L1572.0,107.9 L1575.0,114.0 L1578.0,120.6 L1581.0,127.5 L1584.0,134.7 L1587.0,142.3 L1590.0,150.1 L1593.0,158.1 L1596.0,166.3 L1599.0,174.6 L1602.0,183.1 L1605.0,191.6 L1608.0,200.2 L1611.0,208.9 L1614.0,217.5 L1617.0,226.2 L1620.0,234.8 L1623.0,243.3 L1626.0,251.8 L1629.0,260.2 L1632.0,268.5 L1635.0,276.7 L1638.0,284.8 L1641.0,292.7 L1644.0,300.6 L1647.0,308.2 L1650.0,315.7 L1653.0,323.1 L1656.0,330.3 L1659.0,337.4 L1662.0,344.3 L1665.0,351.0 L1668.0,357.6 L1671.0,364.0 L1674.0,370.3 L1677.0,376.4 L1680.0,382.3 L1683.0,388.2 L1686.0,393.8 L1689.0,399.3 L1692.0,404.7 L1695.0,409.9 L1698.0,415.0 L1701.0,419.9 L1704.0,424.8 L1707.0,429.5 L1710.0,434.0 L1713.0,438.5 L1716.0,442.8 L1719.0,447.0 L1722.0,451.1 L1725.0,455.1 L1728.0,459.0 L1731.0,462.8 L1734.0,466.4 L1737.0,470.0 L1740.0,473.5 L1743.0,476.9 L1746.0,480.2 L1749.0,483.5 L1752.0,486.6 L1755.0,489.7 L1758.0,492.7 L1761.0,495.6 L1764.0,498.4 L1767.0,501.2 L1770.0,503.9 L1773.0,506.5 L1776.0,509.1 L1779.0,511.6 L1782.0,514.1 L1785.0,516.5 L1788.0,518.8 L1791.0,521.1 L1794.0,523.3 L1797.0,525.5 L1800.0,527.6 L1803.0,529.7 L1806.0,531.7 L1809.0,533.7 L1812.0,535.6 L1815.0,537.5 L1818.0,539.4 L1821.0,541.2 L1824.0,543.0 L1827.0,544.7 L1830.0,546.4 L1833.0,548.1 L1836.0,549.7 L1839.0,551.3 L1842.0,552.8 L1845.0,554.4 L1848.0,555.9 L1851.0,557.3 L1854.0,558.8 L1857.0,560.2 L1860.0,561.6 L1863.0,562.9 L1866.0,564.3 L1869.0,565.6 L1872.0,566.9 L1875.0,568.1 L1878.0,569.3 L1881.0,570.6 L1884.0,571.7 L1887.0,572.9 L1890.0,574.1 L1893.0,575.2 L1896.0,576.3 L1899.0,577.4 L1902.0,578.4 L1905.0,579.5 L1908.0,580.5 L1911.0,581.5 L1914.0,582.5 L1917.0,583.5 L1920.0,584.4 L1923.0,585.4 L1926.0,586.3 L1929.0,587.2 L1932.0,588.1 L1935.0,589.0 L1938.0,589.9 L1941.0,590.7 L1944.0,591.6 L1947.0,592.4 L1950.0,593.2 L1953.0,594.0 L1956.0,594.8 L1959.0,595.6 L1962.0,596.4 L1965.0,597.1 L1968.0,597.9 L1971.0,598.6 L1974.0,599.3 L1977.0,600.0 L1980.0,600.7 L1983.0,601.4 L1986.0,602.1 L1989.0,602.8 L1992.0,603.5 L1995.0,604.1 L1998.0,604.7 L2001.0,605.4 L2004.0,606.0 L2007.0,606.6 L2010.0,607.2 L2013.0,607.8 L2016.0,608.4 L2019.0,609.0 L2022.0,609.6 L2025.0,610.2 L2028.0,610.7 L2031.0,611.3 L2034.0,611.8 L2037.0,612.4 L2040.0,612.9 L2043.0,613.4 L2046.0,613.9 L2049.0,614.5 L2052.0,615.0 L2055.0,615.5 L2058.0,616.0 L2061.0,616.5 L2064.0,616.9 L2067.0,617.4 L2070.0,617.9 L2073.0,618.4 L2076.0,618.8 L2079.0,619.3 L2082.0,619.7 L2085.0,620.2 L2088.0,620.6 L2091.0,621.0 L2094.0,621.5 L2097.0,621.9 L2100.0,622.3 L2103.0,622.7 L2106.0,623.1 L2109.0,623.5 L2112.0,623.9 L2115.0,624.3 L2118.0,624.7 L2121.0,625.1 L2126.5,625.8" stroke="#ff0000" stroke-width="5.9"/>
<path id="exp-b" d="M228.6,624.6 L240.8,607.6 L253.4,606.3 L268.6,609.6 L281.3,606.3 L292.7,605.6 L307.8,609.6 L320.5,607.6 L333.2,598.2 L345.8,588.6 L357.2,591.1 L372.4,586.1 L385.1,587.3 L398.2,592.4 L410.4,579.2 L421.8,567.1 L435.7,562.0 L449.6,554.9 L461.0,551.9 L473.7,554.9 L487.6,551.1 L500.3,543.0 L512.9,553.2 L525.6,528.6 L538.2,534.9 L552.2,527.3 L564.8,521.0 L577.5,524.1 L590.1,512.7 L601.5,507.6 L615.4,498.0 L628.1,496.2 L640.8,492.4 L653.4,486.1 L666.1,458.7 L678.7,479.7 L691.9,458.7 L705.3,463.3 L716.5,454.4 L729.9,445.6 L742.5,424.1 L755.7,430.4 L767.8,405.1 L780.5,406.3 L793.2,393.7 L805.8,386.8 L817.7,363.3 L830.4,358.2 L843.8,350.6 L855.7,335.4 L868.4,324.1 L882.3,292.4 L894.9,295.4 L907.6,269.1 L920.3,250.6 L932.9,235.4 L944.3,225.3 L956.2,216.5 L968.4,203.8 L981.5,202.5 L994.9,211.4 L1007.6,219.0 L1021.0,226.6 L1033.7,244.3 L1045.6,249.4 L1058.2,260.8 L1070.9,289.4 L1082.3,286.1 L1096.2,298.7 L1107.6,302.0 L1119.7,300.5 L1132.9,317.7 L1145.6,332.9 L1158.2,340.0 L1170.9,329.9 L1183.5,342.5 L1196.2,339.2 L1207.6,331.6 L1220.3,338.0 L1232.2,364.1 L1245.3,356.5 L1257.5,346.3 L1269.4,345.1 L1282.0,353.9 L1294.7,339.2 L1307.3,341.8 L1320.0,327.3 L1332.7,324.1 L1345.3,322.3 L1358.0,320.5 L1369.4,305.8 L1382.0,307.1 L1394.7,304.6 L1406.8,289.4 L1418.7,278.0 L1431.4,258.2 L1444.1,245.6 L1456.7,213.4 L1469.4,193.2 L1481.3,183.0 L1493.4,159.0 L1505.6,121.0 L1518.2,102.0 L1530.1,72.9 L1542.8,71.6 L1554.7,72.9 L1566.8,104.6 L1579.0,117.2 L1591.6,129.9 L1604.8,178.0 L1617.5,202.0 L1630.1,231.1 L1641.5,262.8 L1653.4,302.0 L1665.6,338.7 L1677.0,394.4 L1689.6,409.6 L1702.3,436.2 L1713.8,459.5 L1725.2,481.0 L1737.8,500.0 L1750.5,513.9 L1761.9,526.6 L1774.5,516.5 L1785.9,541.8 L1798.6,551.9 L1811.3,553.9 L1822.6,558.2 L1834.8,568.4 L1847.5,586.1 L1860.1,570.1 L1872.0,581.8 L1883.4,581.0 L1896.1,577.2 L1908.7,582.8 L1920.1,589.4 L1932.8,584.8 L1944.2,597.0 L1956.8,592.9 L1969.0,586.8 L1980.9,592.4 L1992.3,595.4 L2004.9,592.9 L2016.3,591.1 L2029.0,601.3 L2040.9,614.7 L2053.0,608.9 L2065.2,605.6 L2077.1,603.8 L2089.7,607.1 L2101.1,578.5 L2113.3,572.2 L2125.9,551.4" stroke="#000" stroke-width="5.9"/>
<path id="exp-a" d="M228.1,1296.5 L242.0,1297.0 L253.4,1294.7 L267.3,1297.7 L281.3,1284.6 L291.4,1298.2 L305.3,1297.2 L318.7,1285.6 L331.9,1293.2 L344.6,1292.2 L358.5,1291.6 L371.1,1282.5 L383.8,1293.2 L396.5,1291.4 L410.4,1288.9 L423.0,1290.1 L435.7,1287.6 L448.4,1282.0 L461.0,1283.8 L473.7,1288.9 L486.3,1291.4 L499.0,1280.0 L512.9,1273.7 L525.6,1297.2 L539.5,1286.3 L552.2,1283.8 L564.8,1282.5 L577.5,1267.8 L591.4,1269.4 L604.1,1280.0 L616.7,1271.1 L629.4,1260.3 L642.0,1255.9 L654.7,1258.5 L667.3,1250.9 L680.0,1248.4 L691.4,1244.6 L704.6,1224.8 L718.0,1242.0 L730.6,1225.6 L741.8,1207.6 L754.4,1207.1 L767.1,1203.8 L780.5,1187.8 L793.2,1187.8 L806.3,1174.7 L819.0,1158.2 L831.6,1151.4 L844.3,1151.9 L857.0,1126.6 L869.6,1106.3 L882.3,1086.1 L894.9,1065.8 L896.7,1072.0 L911.9,1016.0 L922.0,1008.6 L934.7,963.0 L947.0,916.7 L957.0,887.0 L966.3,839.0 L980.3,787.1 L994.2,774.4 L1006.8,752.9 L1020.8,746.6 L1033.4,771.9 L1041.0,793.4 L1053.0,829.3 L1066.0,863.6 L1079.0,930.1 L1084.1,947.8 L1094.2,970.6 L1106.8,1006.1 L1119.5,1040.3 L1133.4,1049.1 L1146.1,1051.6 L1158.7,1088.4 L1171.4,1097.2 L1184.1,1108.6 L1195.4,1111.9 L1207.6,1138.0 L1219.0,1143.8 L1231.6,1131.6 L1245.6,1149.4 L1257.0,1151.9 L1268.4,1149.4 L1281.5,1136.7 L1294.2,1155.7 L1306.3,1143.0 L1319.5,1158.2 L1331.6,1146.3 L1343.8,1141.3 L1356.5,1124.6 L1369.6,1145.6 L1381.0,1144.3 L1393.7,1131.6 L1406.3,1127.8 L1417.7,1130.4 L1430.4,1111.4 L1441.8,1075.9 L1454.4,1064.6 L1467.1,1068.4 L1482.0,1026.3 L1497.2,998.5 L1509.9,958.0 L1522.0,921.6 L1535.0,877.4 L1548.0,834.0 L1563.0,770.6 L1580.8,750.4 L1592.2,763.0 L1603.5,778.2 L1616.2,779.5 L1623.8,808.6 L1636.0,857.4 L1646.0,892.8 L1656.7,914.9 L1674.4,947.8 L1679.5,963.0 L1687.1,1003.5 L1693.4,1023.8 L1704.8,1049.1 L1714.9,1084.6 L1725.2,1144.3 L1736.6,1158.2 L1749.2,1200.0 L1761.9,1211.4 L1774.5,1222.8 L1787.2,1229.1 L1798.6,1229.1 L1811.3,1244.3 L1822.6,1253.2 L1835.3,1263.3 L1848.0,1263.3 L1859.4,1263.3 L1870.7,1257.7 L1883.4,1272.2 L1896.1,1272.2 L1907.5,1278.5 L1920.1,1265.8 L1931.5,1273.4 L1944.2,1287.3 L1955.6,1287.3 L1968.2,1281.0 L1980.9,1288.6 L1992.3,1281.0 L2004.9,1297.5 L2017.6,1289.9 L2029.0,1286.1 L2041.6,1293.7 L2053.0,1278.5 L2065.7,1286.1 L2077.1,1285.6 L2089.7,1291.1 L2101.1,1293.7 L2113.3,1302.5 L2125.2,1296.2" stroke="#000" stroke-width="5.9"/>
<path id="d-a" d="M230.6,1305.3 L233.6,1305.2 L236.6,1305.1 L239.6,1305.0 L242.6,1304.9 L245.6,1304.8 L248.6,1304.7 L251.6,1304.6 L254.6,1304.6 L257.6,1304.5 L260.6,1304.4 L263.6,1304.3 L266.6,1304.2 L269.6,1304.1 L272.6,1304.0 L275.6,1303.9 L278.6,1303.8 L281.6,1303.7 L284.6,1303.6 L287.6,1303.4 L290.6,1303.3 L293.6,1303.2 L296.6,1303.1 L299.6,1303.0 L302.6,1302.9 L305.6,1302.8 L308.6,1302.7 L311.6,1302.5 L314.6,1302.4 L317.6,1302.3 L320.6,1302.2 L323.6,1302.1 L326.6,1301.9 L329.6,1301.8 L332.6,1301.7 L335.6,1301.5 L338.6,1301.4 L341.6,1301.3 L344.6,1301.1 L347.6,1301.0 L350.6,1300.9 L353.6,1300.7 L356.6,1300.6 L359.6,1300.4 L362.6,1300.3 L365.6,1300.1 L368.6,1300.0 L371.6,1299.8 L374.6,1299.7 L377.6,1299.5 L380.6,1299.4 L383.6,1299.2 L386.6,1299.0 L389.6,1298.9 L392.6,1298.7 L395.6,1298.5 L398.6,1298.4 L401.6,1298.2 L404.6,1298.0 L407.6,1297.8 L410.6,1297.7 L413.6,1297.5 L416.6,1297.3 L419.6,1297.1 L422.6,1296.9 L425.6,1296.7 L428.6,1296.5 L431.6,1296.3 L434.6,1296.1 L437.6,1295.9 L440.6,1295.7 L443.6,1295.5 L446.6,1295.3 L449.6,1295.0 L452.6,1294.8 L455.6,1294.6 L458.6,1294.3 L461.6,1294.1 L464.6,1293.9 L467.6,1293.6 L470.6,1293.4 L473.6,1293.1 L476.6,1292.9 L479.6,1292.6 L482.6,1292.4 L485.6,1292.1 L488.6,1291.8 L491.6,1291.6 L494.6,1291.3 L497.6,1291.0 L500.6,1290.7 L503.6,1290.4 L506.6,1290.1 L509.6,1289.8 L512.6,1289.5 L515.6,1289.2 L518.6,1288.9 L521.6,1288.6 L524.6,1288.2 L527.6,1287.9 L530.6,1287.6 L533.6,1287.2 L536.6,1286.9 L539.6,1286.5 L542.6,1286.1 L545.6,1285.8 L548.6,1285.4 L551.6,1285.0 L554.6,1284.6 L557.6,1284.2 L560.6,1283.8 L563.6,1283.4 L566.6,1283.0 L569.6,1282.5 L572.6,1282.1 L575.6,1281.7 L578.6,1281.2 L581.6,1280.7 L584.6,1280.3 L587.6,1279.8 L590.6,1279.3 L593.6,1278.8 L596.6,1278.3 L599.6,1277.8 L602.6,1277.2 L605.6,1276.7 L608.6,1276.2 L611.6,1275.6 L614.6,1275.0 L617.6,1274.4 L620.6,1273.8 L623.6,1273.2 L626.6,1272.6 L629.6,1272.0 L632.6,1271.3 L635.6,1270.7 L638.6,1270.0 L641.6,1269.3 L644.6,1268.6 L647.6,1267.9 L650.6,1267.1 L653.6,1266.4 L656.6,1265.6 L659.6,1264.8 L662.6,1264.0 L665.6,1263.2 L668.6,1262.4 L671.6,1261.5 L674.6,1260.6 L677.6,1259.7 L680.6,1258.8 L683.6,1257.9 L686.6,1256.9 L689.6,1255.9 L692.6,1254.9 L695.6,1253.9 L698.6,1252.8 L701.6,1251.7 L704.6,1250.6 L707.6,1249.5 L710.6,1248.3 L713.6,1247.1 L716.6,1245.9 L719.6,1244.6 L722.6,1243.3 L725.6,1242.0 L728.6,1240.7 L731.6,1239.3 L734.6,1237.9 L737.6,1236.4 L740.6,1234.9 L743.6,1233.3 L746.6,1231.8 L749.6,1230.1 L752.6,1228.5 L755.6,1226.8 L758.6,1225.0 L761.6,1223.2 L764.6,1221.3 L767.6,1219.4 L770.6,1217.4 L773.6,1215.4 L776.6,1213.3 L779.6,1211.2 L782.6,1209.0 L785.6,1206.8 L788.6,1204.4 L791.6,1202.0 L794.6,1199.6 L797.6,1197.0 L800.6,1194.4 L803.6,1191.7 L806.6,1189.0 L809.6,1186.1 L812.6,1183.2 L815.6,1180.1 L818.6,1177.0 L821.6,1173.8 L824.6,1170.5 L827.6,1167.1 L830.6,1163.6 L833.6,1160.0 L836.6,1156.2 L839.6,1152.4 L842.6,1148.4 L845.6,1144.3 L848.6,1140.1 L851.6,1135.8 L854.6,1131.3 L857.6,1126.7 L860.6,1121.9 L863.6,1117.0 L866.6,1112.0 L869.6,1106.8 L872.6,1101.4 L875.6,1095.9 L878.6,1090.2 L881.6,1084.4 L884.6,1078.4 L887.6,1072.2 L890.6,1065.9 L893.6,1059.3 L896.6,1052.6 L899.6,1045.8 L902.6,1038.7 L905.6,1031.5 L908.6,1024.2 L911.6,1016.6 L914.6,1008.9 L917.6,1001.0 L920.6,993.0 L923.6,984.8 L926.6,976.5 L929.6,968.1 L932.6,959.6 L935.6,951.0 L938.6,942.3 L941.6,933.5 L944.6,924.7 L947.6,915.9 L950.6,907.1 L953.6,898.4 L956.6,889.7 L959.6,881.1 L962.6,872.7 L965.6,864.4 L968.6,856.4 L971.6,848.6 L974.6,841.2 L977.6,834.0 L980.6,827.3 L983.6,820.9 L986.6,815.1 L989.6,809.7 L992.6,804.9 L995.6,800.6 L998.6,796.9 L1001.6,793.9 L1004.6,791.5 L1007.6,789.8 L1010.6,788.8 L1013.6,788.5 L1016.6,788.9 L1019.6,789.9 L1022.6,791.7 L1025.6,794.1 L1028.6,797.2 L1031.6,800.9 L1034.6,805.2 L1037.6,810.0 L1040.6,815.4 L1043.6,821.3 L1046.6,827.7 L1049.6,834.5 L1052.6,841.7 L1055.6,849.2 L1058.6,856.9 L1061.6,865.0 L1064.6,873.3 L1067.6,881.7 L1070.6,890.3 L1073.6,898.9 L1076.6,907.7 L1079.6,916.5 L1082.6,925.3 L1085.6,934.1 L1088.6,942.8 L1091.6,951.5 L1094.6,960.2 L1097.6,968.7 L1100.6,977.1 L1103.6,985.4 L1106.6,993.5 L1109.6,1001.5 L1112.6,1009.4 L1115.6,1017.1 L1118.6,1024.6 L1121.6,1032.0 L1124.6,1039.2 L1127.6,1046.2 L1130.6,1053.1 L1133.6,1059.8 L1136.6,1066.3 L1139.6,1072.6 L1142.6,1078.8 L1145.6,1084.8 L1148.6,1090.6 L1151.6,1096.3 L1154.6,1101.8 L1157.6,1107.1 L1160.6,1112.3 L1163.6,1117.3 L1166.6,1122.2 L1169.6,1127.0 L1172.6,1131.6 L1175.6,1136.0 L1178.6,1140.4 L1181.6,1144.6 L1184.6,1148.7 L1187.6,1152.6 L1190.6,1156.5 L1193.6,1160.2 L1196.6,1163.8 L1199.6,1167.3 L1202.6,1170.7 L1205.6,1174.0 L1208.6,1177.2 L1211.6,1180.3 L1214.6,1183.4 L1217.6,1186.3 L1220.6,1189.1 L1223.6,1191.9 L1226.6,1194.6 L1229.6,1197.2 L1232.6,1199.7 L1235.6,1202.2 L1238.6,1204.6 L1241.6,1206.9 L1244.6,1209.2 L1247.6,1211.4 L1250.6,1213.5 L1253.6,1215.6 L1256.6,1217.6 L1259.6,1219.5 L1262.6,1221.5 L1265.6,1223.3 L1268.6,1225.1 L1271.6,1226.9 L1274.6,1228.6 L1277.6,1230.2 L1280.6,1231.9 L1283.6,1233.5 L1286.6,1235.0 L1289.6,1236.5 L1292.6,1238.0 L1295.6,1239.4 L1298.6,1240.8 L1301.6,1242.1 L1304.6,1243.4 L1307.6,1244.7 L1310.6,1246.0 L1313.6,1247.2 L1316.6,1248.4 L1319.6,1249.6 L1322.6,1250.7 L1325.6,1251.8 L1328.6,1252.9 L1331.6,1253.9 L1334.6,1255.0 L1337.6,1256.0 L1340.6,1257.0 L1343.6,1257.9 L1346.6,1258.9 L1349.6,1259.8 L1352.6,1260.7 L1355.6,1261.6 L1358.6,1262.4 L1361.6,1263.3 L1364.6,1264.1 L1367.6,1264.9 L1370.6,1265.7 L1373.6,1266.4 L1376.6,1267.2 L1379.6,1267.9 L1382.6,1268.6 L1385.6,1269.3 L1388.6,1270.0 L1391.6,1270.7 L1394.6,1271.4 L1397.6,1272.0 L1400.6,1272.6 L1403.6,1273.3 L1406.6,1273.9 L1409.6,1274.5 L1412.6,1275.1 L1415.6,1275.6 L1418.6,1276.2 L1421.6,1276.7 L1424.6,1277.3 L1427.6,1277.8 L1430.6,1278.3 L1433.6,1278.8 L1436.6,1279.3 L1439.6,1279.8 L1442.6,1280.3 L1445.6,1280.8 L1448.6,1281.2 L1451.6,1281.7 L1454.6,1282.1 L1457.6,1282.6 L1460.6,1283.0 L1463.6,1283.4 L1466.6,1283.8 L1469.6,1284.2 L1472.6,1284.6 L1475.6,1285.0 L1478.6,1285.4 L1481.6,1285.8 L1484.6,1286.2 L1487.6,1286.5 L1490.6,1286.9 L1493.6,1287.2 L1496.6,1287.6 L1499.6,1287.9 L1502.6,1288.3 L1505.6,1288.6 L1508.6,1288.9 L1511.6,1289.2 L1514.6,1289.5 L1517.6,1289.8 L1520.6,1290.1 L1523.6,1290.4 L1526.6,1290.7 L1529.6,1291.0 L1532.6,1291.3 L1535.6,1291.6 L1538.6,1291.9 L1541.6,1292.1 L1544.6,1292.4 L1547.6,1292.6 L1550.6,1292.9 L1553.6,1293.2 L1556.6,1293.4 L1559.6,1293.7 L1562.6,1293.9 L1565.6,1294.1 L1568.6,1294.4 L1571.6,1294.6 L1574.6,1294.8 L1577.6,1295.0 L1580.6,1295.3 L1583.6,1295.5 L1586.6,1295.7 L1589.6,1295.9 L1592.6,1296.1 L1595.6,1296.3 L1598.6,1296.5 L1601.6,1296.7 L1604.6,1296.9 L1607.6,1297.1 L1610.6,1297.3 L1613.6,1297.5 L1616.6,1297.7 L1619.6,1297.9 L1622.6,1298.0 L1625.6,1298.2 L1628.6,1298.4 L1631.6,1298.6 L1634.6,1298.7 L1637.6,1298.9 L1640.6,1299.1 L1643.6,1299.2 L1646.6,1299.4 L1649.6,1299.5 L1652.6,1299.7 L1655.6,1299.9 L1658.6,1300.0 L1661.6,1300.2 L1664.6,1300.3 L1667.6,1300.4 L1670.6,1300.6 L1673.6,1300.7 L1676.6,1300.9 L1679.6,1301.0 L1682.6,1301.2 L1685.6,1301.3 L1688.6,1301.4 L1691.6,1301.6 L1694.6,1301.7 L1697.6,1301.8 L1700.6,1301.9 L1703.6,1302.1 L1706.6,1302.2 L1709.6,1302.3 L1712.6,1302.4 L1715.6,1302.5 L1718.6,1302.7 L1721.6,1302.8 L1724.6,1302.9 L1727.6,1303.0 L1730.6,1303.1 L1733.6,1303.2 L1736.6,1303.3 L1739.6,1303.5 L1742.6,1303.6 L1745.6,1303.7 L1748.6,1303.8 L1751.6,1303.9 L1754.6,1304.0 L1757.6,1304.1 L1760.6,1304.2 L1763.6,1304.3 L1766.6,1304.4 L1769.6,1304.5 L1772.6,1304.6 L1775.6,1304.7 L1778.6,1304.7 L1781.6,1304.8 L1784.6,1304.9 L1787.6,1305.0 L1790.6,1305.1 L1793.6,1305.2 L1796.6,1305.3 L1799.6,1305.4 L1802.6,1305.5 L1805.6,1305.5 L1808.6,1305.6 L1811.6,1305.7 L1814.6,1305.8 L1817.6,1305.9 L1820.6,1305.9 L1823.6,1306.0 L1826.6,1306.1 L1829.6,1306.2 L1832.6,1306.3 L1835.6,1306.3 L1838.6,1306.4 L1841.6,1306.5 L1844.6,1306.6 L1847.6,1306.6 L1850.6,1306.7 L1853.6,1306.8 L1856.6,1306.8 L1859.6,1306.9 L1862.6,1307.0 L1865.6,1307.0 L1868.6,1307.1 L1871.6,1307.2 L1874.6,1307.2 L1877.6,1307.3 L1880.6,1307.4 L1883.6,1307.4 L1886.6,1307.5 L1889.6,1307.6 L1892.6,1307.6 L1895.6,1307.7 L1898.6,1307.7 L1901.6,1307.8 L1904.6,1307.9 L1907.6,1307.9 L1910.6,1308.0 L1913.6,1308.0 L1916.6,1308.1 L1919.6,1308.2 L1922.6,1308.2 L1925.6,1308.3 L1928.6,1308.3 L1931.6,1308.4 L1934.6,1308.4 L1937.6,1308.5 L1940.6,1308.5 L1943.6,1308.6 L1946.6,1308.6 L1949.6,1308.7 L1952.6,1308.7 L1955.6,1308.8 L1958.6,1308.8 L1961.6,1308.9 L1964.6,1308.9 L1967.6,1309.0 L1970.6,1309.0 L1973.6,1309.1 L1976.6,1309.1 L1979.6,1309.2 L1982.6,1309.2 L1985.6,1309.3 L1988.6,1309.3 L1991.6,1309.4 L1994.6,1309.4 L1997.6,1309.4 L2000.6,1309.5 L2003.6,1309.5 L2006.6,1309.6 L2009.6,1309.6 L2012.6,1309.7 L2015.6,1309.7 L2018.6,1309.7 L2021.6,1309.8 L2024.6,1309.8 L2027.6,1309.9 L2030.6,1309.9 L2033.6,1310.0 L2036.6,1310.0 L2039.6,1310.0 L2042.6,1310.1 L2045.6,1310.1 L2048.6,1310.1 L2051.6,1310.2 L2054.6,1310.2 L2057.6,1310.3 L2060.6,1310.3 L2063.6,1310.3 L2066.6,1310.4 L2069.6,1310.4 L2072.6,1310.4 L2075.6,1310.5 L2078.6,1310.5 L2081.6,1310.5 L2084.6,1310.6 L2087.6,1310.6 L2090.6,1310.6 L2093.6,1310.7 L2096.6,1310.7 L2099.6,1310.7 L2102.6,1310.8 L2105.6,1310.8 L2108.6,1310.8 L2111.6,1310.9 L2114.6,1310.9 L2117.6,1310.9 L2120.6,1311.0 L2123.6,1311.0" stroke="#00ff00" stroke-width="7.0" stroke-linecap="round"/>
<path id="g-a" d="M230.6,1313.9 L233.6,1313.9 L236.6,1313.9 L239.6,1313.9 L242.6,1313.8 L245.6,1313.8 L248.6,1313.8 L251.6,1313.8 L254.6,1313.8 L257.6,1313.8 L260.6,1313.8 L263.6,1313.7 L266.6,1313.7 L269.6,1313.7 L272.6,1313.7 L275.6,1313.7 L278.6,1313.7 L281.6,1313.7 L284.6,1313.6 L287.6,1313.6 L290.6,1313.6 L293.6,1313.6 L296.6,1313.6 L299.6,1313.6 L302.6,1313.6 L305.6,1313.5 L308.6,1313.5 L311.6,1313.5 L314.6,1313.5 L317.6,1313.5 L320.6,1313.5 L323.6,1313.4 L326.6,1313.4 L329.6,1313.4 L332.6,1313.4 L335.6,1313.4 L338.6,1313.4 L341.6,1313.4 L344.6,1313.3 L347.6,1313.3 L350.6,1313.3 L353.6,1313.3 L356.6,1313.3 L359.6,1313.3 L362.6,1313.2 L365.6,1313.2 L368.6,1313.2 L371.6,1313.2 L374.6,1313.2 L377.6,1313.1 L380.6,1313.1 L383.6,1313.1 L386.6,1313.1 L389.6,1313.1 L392.6,1313.1 L395.6,1313.0 L398.6,1313.0 L401.6,1313.0 L404.6,1313.0 L407.6,1313.0 L410.6,1312.9 L413.6,1312.9 L416.6,1312.9 L419.6,1312.9 L422.6,1312.9 L425.6,1312.8 L428.6,1312.8 L431.6,1312.8 L434.6,1312.8 L437.6,1312.8 L440.6,1312.7 L443.6,1312.7 L446.6,1312.7 L449.6,1312.7 L452.6,1312.7 L455.6,1312.6 L458.6,1312.6 L461.6,1312.6 L464.6,1312.6 L467.6,1312.5 L470.6,1312.5 L473.6,1312.5 L476.6,1312.5 L479.6,1312.4 L482.6,1312.4 L485.6,1312.4 L488.6,1312.4 L491.6,1312.4 L494.6,1312.3 L497.6,1312.3 L500.6,1312.3 L503.6,1312.3 L506.6,1312.2 L509.6,1312.2 L512.6,1312.2 L515.6,1312.2 L518.6,1312.1 L521.6,1312.1 L524.6,1312.1 L527.6,1312.0 L530.6,1312.0 L533.6,1312.0 L536.6,1312.0 L539.6,1311.9 L542.6,1311.9 L545.6,1311.9 L548.6,1311.9 L551.6,1311.8 L554.6,1311.8 L557.6,1311.8 L560.6,1311.7 L563.6,1311.7 L566.6,1311.7 L569.6,1311.7 L572.6,1311.6 L575.6,1311.6 L578.6,1311.6 L581.6,1311.5 L584.6,1311.5 L587.6,1311.5 L590.6,1311.4 L593.6,1311.4 L596.6,1311.4 L599.6,1311.3 L602.6,1311.3 L605.6,1311.3 L608.6,1311.2 L611.6,1311.2 L614.6,1311.2 L617.6,1311.1 L620.6,1311.1 L623.6,1311.1 L626.6,1311.0 L629.6,1311.0 L632.6,1311.0 L635.6,1310.9 L638.6,1310.9 L641.6,1310.8 L644.6,1310.8 L647.6,1310.8 L650.6,1310.7 L653.6,1310.7 L656.6,1310.7 L659.6,1310.6 L662.6,1310.6 L665.6,1310.5 L668.6,1310.5 L671.6,1310.5 L674.6,1310.4 L677.6,1310.4 L680.6,1310.3 L683.6,1310.3 L686.6,1310.2 L689.6,1310.2 L692.6,1310.2 L695.6,1310.1 L698.6,1310.1 L701.6,1310.0 L704.6,1310.0 L707.6,1309.9 L710.6,1309.9 L713.6,1309.8 L716.6,1309.8 L719.6,1309.7 L722.6,1309.7 L725.6,1309.6 L728.6,1309.6 L731.6,1309.5 L734.6,1309.5 L737.6,1309.4 L740.6,1309.4 L743.6,1309.3 L746.6,1309.3 L749.6,1309.2 L752.6,1309.2 L755.6,1309.1 L758.6,1309.1 L761.6,1309.0 L764.6,1309.0 L767.6,1308.9 L770.6,1308.8 L773.6,1308.8 L776.6,1308.7 L779.6,1308.7 L782.6,1308.6 L785.6,1308.6 L788.6,1308.5 L791.6,1308.4 L794.6,1308.4 L797.6,1308.3 L800.6,1308.2 L803.6,1308.2 L806.6,1308.1 L809.6,1308.0 L812.6,1308.0 L815.6,1307.9 L818.6,1307.8 L821.6,1307.8 L824.6,1307.7 L827.6,1307.6 L830.6,1307.6 L833.6,1307.5 L836.6,1307.4 L839.6,1307.3 L842.6,1307.3 L845.6,1307.2 L848.6,1307.1 L851.6,1307.0 L854.6,1307.0 L857.6,1306.9 L860.6,1306.8 L863.6,1306.7 L866.6,1306.6 L869.6,1306.5 L872.6,1306.5 L875.6,1306.4 L878.6,1306.3 L881.6,1306.2 L884.6,1306.1 L887.6,1306.0 L890.6,1305.9 L893.6,1305.8 L896.6,1305.7 L899.6,1305.7 L902.6,1305.6 L905.6,1305.5 L908.6,1305.4 L911.6,1305.3 L914.6,1305.2 L917.6,1305.1 L920.6,1305.0 L923.6,1304.8 L926.6,1304.7 L929.6,1304.6 L932.6,1304.5 L935.6,1304.4 L938.6,1304.3 L941.6,1304.2 L944.6,1304.1 L947.6,1304.0 L950.6,1303.8 L953.6,1303.7 L956.6,1303.6 L959.6,1303.5 L962.6,1303.3 L965.6,1303.2 L968.6,1303.1 L971.6,1303.0 L974.6,1302.8 L977.6,1302.7 L980.6,1302.6 L983.6,1302.4 L986.6,1302.3 L989.6,1302.1 L992.6,1302.0 L995.6,1301.8 L998.6,1301.7 L1001.6,1301.5 L1004.6,1301.4 L1007.6,1301.2 L1010.6,1301.1 L1013.6,1300.9 L1016.6,1300.8 L1019.6,1300.6 L1022.6,1300.4 L1025.6,1300.3 L1028.6,1300.1 L1031.6,1299.9 L1034.6,1299.7 L1037.6,1299.5 L1040.6,1299.4 L1043.6,1299.2 L1046.6,1299.0 L1049.6,1298.8 L1052.6,1298.6 L1055.6,1298.4 L1058.6,1298.2 L1061.6,1298.0 L1064.6,1297.8 L1067.6,1297.6 L1070.6,1297.4 L1073.6,1297.1 L1076.6,1296.9 L1079.6,1296.7 L1082.6,1296.5 L1085.6,1296.2 L1088.6,1296.0 L1091.6,1295.7 L1094.6,1295.5 L1097.6,1295.2 L1100.6,1295.0 L1103.6,1294.7 L1106.6,1294.5 L1109.6,1294.2 L1112.6,1293.9 L1115.6,1293.6 L1118.6,1293.4 L1121.6,1293.1 L1124.6,1292.8 L1127.6,1292.5 L1130.6,1292.2 L1133.6,1291.8 L1136.6,1291.5 L1139.6,1291.2 L1142.6,1290.9 L1145.6,1290.5 L1148.6,1290.2 L1151.6,1289.8 L1154.6,1289.5 L1157.6,1289.1 L1160.6,1288.8 L1163.6,1288.4 L1166.6,1288.0 L1169.6,1287.6 L1172.6,1287.2 L1175.6,1286.8 L1178.6,1286.4 L1181.6,1286.0 L1184.6,1285.5 L1187.6,1285.1 L1190.6,1284.6 L1193.6,1284.2 L1196.6,1283.7 L1199.6,1283.2 L1202.6,1282.7 L1205.6,1282.2 L1208.6,1281.7 L1211.6,1281.2 L1214.6,1280.6 L1217.6,1280.1 L1220.6,1279.5 L1223.6,1278.9 L1226.6,1278.4 L1229.6,1277.8 L1232.6,1277.1 L1235.6,1276.5 L1238.6,1275.9 L1241.6,1275.2 L1244.6,1274.5 L1247.6,1273.8 L1250.6,1273.1 L1253.6,1272.4 L1256.6,1271.7 L1259.6,1270.9 L1262.6,1270.1 L1265.6,1269.3 L1268.6,1268.5 L1271.6,1267.7 L1274.6,1266.8 L1277.6,1265.9 L1280.6,1265.0 L1283.6,1264.1 L1286.6,1263.1 L1289.6,1262.2 L1292.6,1261.2 L1295.6,1260.1 L1298.6,1259.1 L1301.6,1258.0 L1304.6,1256.9 L1307.6,1255.7 L1310.6,1254.6 L1313.6,1253.3 L1316.6,1252.1 L1319.6,1250.8 L1322.6,1249.5 L1325.6,1248.1 L1328.6,1246.7 L1331.6,1245.3 L1334.6,1243.8 L1337.6,1242.3 L1340.6,1240.7 L1343.6,1239.1 L1346.6,1237.5 L1349.6,1235.8 L1352.6,1234.0 L1355.6,1232.2 L1358.6,1230.3 L1361.6,1228.4 L1364.6,1226.4 L1367.6,1224.3 L1370.6,1222.2 L1373.6,1220.0 L1376.6,1217.7 L1379.6,1215.4 L1382.6,1212.9 L1385.6,1210.4 L1388.6,1207.8 L1391.6,1205.2 L1394.6,1202.4 L1397.6,1199.6 L1400.6,1196.6 L1403.6,1193.5 L1406.6,1190.4 L1409.6,1187.1 L1412.6,1183.7 L1415.6,1180.2 L1418.6,1176.6 L1421.6,1172.8 L1424.6,1168.9 L1427.6,1164.9 L1430.6,1160.7 L1433.6,1156.4 L1436.6,1151.9 L1439.6,1147.3 L1442.6,1142.4 L1445.6,1137.4 L1448.6,1132.3 L1451.6,1126.9 L1454.6,1121.4 L1457.6,1115.6 L1460.6,1109.7 L1463.6,1103.5 L1466.6,1097.1 L1469.6,1090.6 L1472.6,1083.7 L1475.6,1076.7 L1478.6,1069.4 L1481.6,1061.8 L1484.6,1054.1 L1487.6,1046.1 L1490.6,1037.8 L1493.6,1029.3 L1496.6,1020.5 L1499.6,1011.6 L1502.6,1002.4 L1505.6,992.9 L1508.6,983.3 L1511.6,973.4 L1514.6,963.4 L1517.6,953.2 L1520.6,942.9 L1523.6,932.5 L1526.6,922.0 L1529.6,911.4 L1532.6,900.9 L1535.6,890.4 L1538.6,880.0 L1541.6,869.7 L1544.6,859.7 L1547.6,849.9 L1550.6,840.5 L1553.6,831.4 L1556.6,822.8 L1559.6,814.8 L1562.6,807.4 L1565.6,800.6 L1568.6,794.5 L1571.6,789.3 L1574.6,784.9 L1577.6,781.4 L1580.6,778.8 L1583.6,777.1 L1586.6,776.4 L1589.6,776.7 L1592.6,778.0 L1595.6,780.2 L1598.6,783.4 L1601.6,787.4 L1604.6,792.3 L1607.6,798.1 L1610.6,804.6 L1613.6,811.7 L1616.6,819.6 L1619.6,827.9 L1622.6,836.8 L1625.6,846.1 L1628.6,855.7 L1631.6,865.7 L1634.6,875.9 L1637.6,886.2 L1640.6,896.7 L1643.6,907.2 L1646.6,917.8 L1649.6,928.3 L1652.6,938.7 L1655.6,949.1 L1658.6,959.4 L1661.6,969.4 L1664.6,979.4 L1667.6,989.1 L1670.6,998.6 L1673.6,1007.9 L1676.6,1017.0 L1679.6,1025.8 L1682.6,1034.4 L1685.6,1042.8 L1688.6,1050.9 L1691.6,1058.8 L1694.6,1066.4 L1697.6,1073.8 L1700.6,1080.9 L1703.6,1087.8 L1706.6,1094.5 L1709.6,1101.0 L1712.6,1107.2 L1715.6,1113.3 L1718.6,1119.1 L1721.6,1124.7 L1724.6,1130.2 L1727.6,1135.4 L1730.6,1140.5 L1733.6,1145.3 L1736.6,1150.1 L1739.6,1154.6 L1742.6,1159.0 L1745.6,1163.2 L1748.6,1167.3 L1751.6,1171.3 L1754.6,1175.1 L1757.6,1178.8 L1760.6,1182.3 L1763.6,1185.8 L1766.6,1189.1 L1769.6,1192.3 L1772.6,1195.4 L1775.6,1198.4 L1778.6,1201.3 L1781.6,1204.1 L1784.6,1206.8 L1787.6,1209.4 L1790.6,1211.9 L1793.6,1214.4 L1796.6,1216.8 L1799.6,1219.1 L1802.6,1221.3 L1805.6,1223.5 L1808.6,1225.5 L1811.6,1227.6 L1814.6,1229.5 L1817.6,1231.4 L1820.6,1233.3 L1823.6,1235.1 L1826.6,1236.8 L1829.6,1238.5 L1832.6,1240.1 L1835.6,1241.7 L1838.6,1243.2 L1841.6,1244.7 L1844.6,1246.2 L1847.6,1247.6 L1850.6,1249.0 L1853.6,1250.3 L1856.6,1251.6 L1859.6,1252.8 L1862.6,1254.1 L1865.6,1255.3 L1868.6,1256.4 L1871.6,1257.6 L1874.6,1258.6 L1877.6,1259.7 L1880.6,1260.8 L1883.6,1261.8 L1886.6,1262.8 L1889.6,1263.7 L1892.6,1264.7 L1895.6,1265.6 L1898.6,1266.5 L1901.6,1267.3 L1904.6,1268.2 L1907.6,1269.0 L1910.6,1269.8 L1913.6,1270.6 L1916.6,1271.4 L1919.6,1272.1 L1922.6,1272.8 L1925.6,1273.6 L1928.6,1274.3 L1931.6,1274.9 L1934.6,1275.6 L1937.6,1276.3 L1940.6,1276.9 L1943.6,1277.5 L1946.6,1278.1 L1949.6,1278.7 L1952.6,1279.3 L1955.6,1279.9 L1958.6,1280.4 L1961.6,1280.9 L1964.6,1281.5 L1967.6,1282.0 L1970.6,1282.5 L1973.6,1283.0 L1976.6,1283.5 L1979.6,1284.0 L1982.6,1284.4 L1985.6,1284.9 L1988.6,1285.3 L1991.6,1285.8 L1994.6,1286.2 L1997.6,1286.6 L2000.6,1287.0 L2003.6,1287.4 L2006.6,1287.8 L2009.6,1288.2 L2012.6,1288.6 L2015.6,1289.0 L2018.6,1289.3 L2021.6,1289.7 L2024.6,1290.1 L2027.6,1290.4 L2030.6,1290.7 L2033.6,1291.1 L2036.6,1291.4 L2039.6,1291.7 L2042.6,1292.0 L2045.6,1292.3 L2048.6,1292.6 L2051.6,1292.9 L2054.6,1293.2 L2057.6,1293.5 L2060.6,1293.8 L2063.6,1294.1 L2066.6,1294.4 L2069.6,1294.6 L2072.6,1294.9 L2075.6,1295.1 L2078.6,1295.4 L2081.6,1295.6 L2084.6,1295.9 L2087.6,1296.1 L2090.6,1296.4 L2093.6,1296.6 L2096.6,1296.8 L2099.6,1297.0 L2102.6,1297.3 L2105.6,1297.5 L2108.6,1297.7 L2111.6,1297.9 L2114.6,1298.1 L2117.6,1298.3 L2120.6,1298.5 L2123.6,1298.7" stroke="#00ff00" stroke-width="7.0" stroke-linecap="round"/>
<path id="fit-a" d="M228.0,1302.5 L231.0,1302.4 L234.0,1302.3 L237.0,1302.2 L240.0,1302.1 L243.0,1302.0 L246.0,1301.8 L249.0,1301.7 L252.0,1301.6 L255.0,1301.5 L258.0,1301.4 L261.0,1301.3 L264.0,1301.2 L267.0,1301.1 L270.0,1301.0 L273.0,1300.9 L276.0,1300.7 L279.0,1300.6 L282.0,1300.5 L285.0,1300.4 L288.0,1300.3 L291.0,1300.1 L294.0,1300.0 L297.0,1299.9 L300.0,1299.8 L303.0,1299.6 L306.0,1299.5 L309.0,1299.4 L312.0,1299.2 L315.0,1299.1 L318.0,1299.0 L321.0,1298.8 L324.0,1298.7 L327.0,1298.5 L330.0,1298.4 L333.0,1298.3 L336.0,1298.1 L339.0,1298.0 L342.0,1297.8 L345.0,1297.7 L348.0,1297.5 L351.0,1297.3 L354.0,1297.2 L357.0,1297.0 L360.0,1296.9 L363.0,1296.7 L366.0,1296.5 L369.0,1296.4 L372.0,1296.2 L375.0,1296.0 L378.0,1295.9 L381.0,1295.7 L384.0,1295.5 L387.0,1295.3 L390.0,1295.1 L393.0,1294.9 L396.0,1294.8 L399.0,1294.6 L402.0,1294.4 L405.0,1294.2 L408.0,1294.0 L411.0,1293.8 L414.0,1293.6 L417.0,1293.4 L420.0,1293.1 L423.0,1292.9 L426.0,1292.7 L429.0,1292.5 L432.0,1292.3 L435.0,1292.0 L438.0,1291.8 L441.0,1291.6 L444.0,1291.4 L447.0,1291.1 L450.0,1290.9 L453.0,1290.6 L456.0,1290.4 L459.0,1290.1 L462.0,1289.9 L465.0,1289.6 L468.0,1289.3 L471.0,1289.1 L474.0,1288.8 L477.0,1288.5 L480.0,1288.2 L483.0,1288.0 L486.0,1287.7 L489.0,1287.4 L492.0,1287.1 L495.0,1286.8 L498.0,1286.5 L501.0,1286.1 L504.0,1285.8 L507.0,1285.5 L510.0,1285.2 L513.0,1284.8 L516.0,1284.5 L519.0,1284.2 L522.0,1283.8 L525.0,1283.5 L528.0,1283.1 L531.0,1282.7 L534.0,1282.4 L537.0,1282.0 L540.0,1281.6 L543.0,1281.2 L546.0,1280.8 L549.0,1280.4 L552.0,1280.0 L555.0,1279.5 L558.0,1279.1 L561.0,1278.7 L564.0,1278.2 L567.0,1277.8 L570.0,1277.3 L573.0,1276.9 L576.0,1276.4 L579.0,1275.9 L582.0,1275.4 L585.0,1274.9 L588.0,1274.4 L591.0,1273.9 L594.0,1273.3 L597.0,1272.8 L600.0,1272.2 L603.0,1271.7 L606.0,1271.1 L609.0,1270.5 L612.0,1269.9 L615.0,1269.3 L618.0,1268.7 L621.0,1268.1 L624.0,1267.4 L627.0,1266.7 L630.0,1266.1 L633.0,1265.4 L636.0,1264.7 L639.0,1264.0 L642.0,1263.2 L645.0,1262.5 L648.0,1261.7 L651.0,1261.0 L654.0,1260.2 L657.0,1259.4 L660.0,1258.5 L663.0,1257.7 L666.0,1256.8 L669.0,1255.9 L672.0,1255.0 L675.0,1254.1 L678.0,1253.2 L681.0,1252.2 L684.0,1251.2 L687.0,1250.2 L690.0,1249.2 L693.0,1248.1 L696.0,1247.0 L699.0,1245.9 L702.0,1244.8 L705.0,1243.6 L708.0,1242.5 L711.0,1241.2 L714.0,1240.0 L717.0,1238.7 L720.0,1237.4 L723.0,1236.1 L726.0,1234.7 L729.0,1233.3 L732.0,1231.8 L735.0,1230.4 L738.0,1228.8 L741.0,1227.3 L744.0,1225.7 L747.0,1224.0 L750.0,1222.3 L753.0,1220.6 L756.0,1218.8 L759.0,1217.0 L762.0,1215.1 L765.0,1213.2 L768.0,1211.3 L771.0,1209.2 L774.0,1207.1 L777.0,1205.0 L780.0,1202.8 L783.0,1200.5 L786.0,1198.2 L789.0,1195.8 L792.0,1193.3 L795.0,1190.8 L798.0,1188.2 L801.0,1185.5 L804.0,1182.7 L807.0,1179.9 L810.0,1177.0 L813.0,1173.9 L816.0,1170.8 L819.0,1167.6 L822.0,1164.3 L825.0,1160.9 L828.0,1157.5 L831.0,1153.8 L834.0,1150.1 L837.0,1146.3 L840.0,1142.4 L843.0,1138.3 L846.0,1134.1 L849.0,1129.8 L852.0,1125.4 L855.0,1120.8 L858.0,1116.1 L861.0,1111.2 L864.0,1106.2 L867.0,1101.1 L870.0,1095.8 L873.0,1090.3 L876.0,1084.7 L879.0,1078.9 L882.0,1073.0 L885.0,1066.9 L888.0,1060.6 L891.0,1054.1 L894.0,1047.5 L897.0,1040.7 L900.0,1033.7 L903.0,1026.5 L906.0,1019.2 L909.0,1011.7 L912.0,1004.0 L915.0,996.2 L918.0,988.2 L921.0,980.1 L924.0,971.8 L927.0,963.3 L930.0,954.8 L933.0,946.1 L936.0,937.4 L939.0,928.6 L942.0,919.7 L945.0,910.8 L948.0,901.9 L951.0,893.0 L954.0,884.1 L957.0,875.3 L960.0,866.6 L963.0,858.1 L966.0,849.8 L969.0,841.6 L972.0,833.8 L975.0,826.2 L978.0,819.0 L981.0,812.1 L984.0,805.7 L987.0,799.8 L990.0,794.3 L993.0,789.4 L996.0,785.1 L999.0,781.4 L1002.0,778.3 L1005.0,775.9 L1008.0,774.1 L1011.0,773.0 L1014.0,772.6 L1017.0,772.9 L1020.0,773.9 L1023.0,775.6 L1026.0,777.9 L1029.0,780.9 L1032.0,784.5 L1035.0,788.7 L1038.0,793.5 L1041.0,798.7 L1044.0,804.5 L1047.0,810.8 L1050.0,817.4 L1053.0,824.4 L1056.0,831.8 L1059.0,839.4 L1062.0,847.2 L1065.0,855.3 L1068.0,863.6 L1071.0,871.9 L1074.0,880.4 L1077.0,889.0 L1080.0,897.5 L1083.0,906.1 L1086.0,914.6 L1089.0,923.2 L1092.0,931.6 L1095.0,940.0 L1098.0,948.2 L1101.0,956.4 L1104.0,964.4 L1107.0,972.2 L1110.0,980.0 L1113.0,987.5 L1116.0,994.9 L1119.0,1002.2 L1122.0,1009.2 L1125.0,1016.1 L1128.0,1022.8 L1131.0,1029.3 L1134.0,1035.7 L1137.0,1041.8 L1140.0,1047.8 L1143.0,1053.6 L1146.0,1059.3 L1149.0,1064.7 L1152.0,1070.0 L1155.0,1075.1 L1158.0,1080.1 L1161.0,1084.9 L1164.0,1089.5 L1167.0,1094.0 L1170.0,1098.3 L1173.0,1102.5 L1176.0,1106.6 L1179.0,1110.5 L1182.0,1114.2 L1185.0,1117.9 L1188.0,1121.4 L1191.0,1124.7 L1194.0,1128.0 L1197.0,1131.1 L1200.0,1134.1 L1203.0,1137.0 L1206.0,1139.8 L1209.0,1142.5 L1212.0,1145.0 L1215.0,1147.5 L1218.0,1149.9 L1221.0,1152.2 L1224.0,1154.3 L1227.0,1156.4 L1230.0,1158.4 L1233.0,1160.3 L1236.0,1162.1 L1239.0,1163.9 L1242.0,1165.5 L1245.0,1167.1 L1248.0,1168.6 L1251.0,1170.0 L1254.0,1171.3 L1257.0,1172.6 L1260.0,1173.8 L1263.0,1174.9 L1266.0,1176.0 L1269.0,1177.0 L1272.0,1177.9 L1275.0,1178.7 L1278.0,1179.5 L1281.0,1180.2 L1284.0,1180.8 L1287.0,1181.4 L1290.0,1181.9 L1293.0,1182.4 L1296.0,1182.8 L1299.0,1183.1 L1302.0,1183.3 L1305.0,1183.5 L1308.0,1183.7 L1311.0,1183.7 L1314.0,1183.7 L1317.0,1183.7 L1320.0,1183.6 L1323.0,1183.4 L1326.0,1183.1 L1329.0,1182.8 L1332.0,1182.4 L1335.0,1181.9 L1338.0,1181.4 L1341.0,1180.8 L1344.0,1180.2 L1347.0,1179.4 L1350.0,1178.6 L1353.0,1177.8 L1356.0,1176.8 L1359.0,1175.8 L1362.0,1174.7 L1365.0,1173.5 L1368.0,1172.2 L1371.0,1170.8 L1374.0,1169.4 L1377.0,1167.9 L1380.0,1166.3 L1383.0,1164.5 L1386.0,1162.7 L1389.0,1160.8 L1392.0,1158.8 L1395.0,1156.7 L1398.0,1154.5 L1401.0,1152.1 L1404.0,1149.7 L1407.0,1147.1 L1410.0,1144.4 L1413.0,1141.6 L1416.0,1138.6 L1419.0,1135.6 L1422.0,1132.3 L1425.0,1128.9 L1428.0,1125.4 L1431.0,1121.7 L1434.0,1117.9 L1437.0,1113.9 L1440.0,1109.7 L1443.0,1105.3 L1446.0,1100.8 L1449.0,1096.1 L1452.0,1091.1 L1455.0,1086.0 L1458.0,1080.7 L1461.0,1075.1 L1464.0,1069.4 L1467.0,1063.4 L1470.0,1057.1 L1473.0,1050.7 L1476.0,1044.0 L1479.0,1037.0 L1482.0,1029.9 L1485.0,1022.4 L1488.0,1014.7 L1491.0,1006.8 L1494.0,998.6 L1497.0,990.2 L1500.0,981.5 L1503.0,972.6 L1506.0,963.5 L1509.0,954.1 L1512.0,944.6 L1515.0,934.8 L1518.0,924.9 L1521.0,914.9 L1524.0,904.8 L1527.0,894.5 L1530.0,884.3 L1533.0,874.0 L1536.0,863.8 L1539.0,853.7 L1542.0,843.7 L1545.0,834.0 L1548.0,824.5 L1551.0,815.4 L1554.0,806.6 L1557.0,798.4 L1560.0,790.7 L1563.0,783.5 L1566.0,777.1 L1569.0,771.4 L1572.0,766.5 L1575.0,762.4 L1578.0,759.2 L1581.0,757.0 L1584.0,755.7 L1587.0,755.3 L1590.0,756.0 L1593.0,757.6 L1596.0,760.1 L1599.0,763.6 L1602.0,768.0 L1605.0,773.2 L1608.0,779.2 L1611.0,786.0 L1614.0,793.5 L1617.0,801.5 L1620.0,810.2 L1623.0,819.3 L1626.0,828.8 L1629.0,838.7 L1632.0,848.8 L1635.0,859.2 L1638.0,869.7 L1641.0,880.4 L1644.0,891.1 L1647.0,901.8 L1650.0,912.4 L1653.0,923.1 L1656.0,933.6 L1659.0,943.9 L1662.0,954.2 L1665.0,964.2 L1668.0,974.0 L1671.0,983.7 L1674.0,993.1 L1677.0,1002.3 L1680.0,1011.2 L1683.0,1019.9 L1686.0,1028.4 L1689.0,1036.6 L1692.0,1044.6 L1695.0,1052.3 L1698.0,1059.8 L1701.0,1067.0 L1704.0,1074.0 L1707.0,1080.8 L1710.0,1087.4 L1713.0,1093.7 L1716.0,1099.8 L1719.0,1105.8 L1722.0,1111.5 L1725.0,1117.0 L1728.0,1122.3 L1731.0,1127.5 L1734.0,1132.4 L1737.0,1137.2 L1740.0,1141.9 L1743.0,1146.3 L1746.0,1150.7 L1749.0,1154.8 L1752.0,1158.9 L1755.0,1162.8 L1758.0,1166.5 L1761.0,1170.2 L1764.0,1173.7 L1767.0,1177.1 L1770.0,1180.4 L1773.0,1183.6 L1776.0,1186.6 L1779.0,1189.6 L1782.0,1192.5 L1785.0,1195.3 L1788.0,1198.0 L1791.0,1200.6 L1794.0,1203.1 L1797.0,1205.6 L1800.0,1208.0 L1803.0,1210.3 L1806.0,1212.5 L1809.0,1214.6 L1812.0,1216.7 L1815.0,1218.8 L1818.0,1220.7 L1821.0,1222.7 L1824.0,1224.5 L1827.0,1226.3 L1830.0,1228.1 L1833.0,1229.8 L1836.0,1231.4 L1839.0,1233.0 L1842.0,1234.6 L1845.0,1236.1 L1848.0,1237.6 L1851.0,1239.0 L1854.0,1240.4 L1857.0,1241.8 L1860.0,1243.1 L1863.0,1244.4 L1866.0,1245.7 L1869.0,1246.9 L1872.0,1248.1 L1875.0,1249.2 L1878.0,1250.4 L1881.0,1251.5 L1884.0,1252.5 L1887.0,1253.6 L1890.0,1254.6 L1893.0,1255.6 L1896.0,1256.6 L1899.0,1257.5 L1902.0,1258.5 L1905.0,1259.4 L1908.0,1260.2 L1911.0,1261.1 L1914.0,1261.9 L1917.0,1262.8 L1920.0,1263.6 L1923.0,1264.4 L1926.0,1265.1 L1929.0,1265.9 L1932.0,1266.6 L1935.0,1267.3 L1938.0,1268.0 L1941.0,1268.7 L1944.0,1269.4 L1947.0,1270.0 L1950.0,1270.7 L1953.0,1271.3 L1956.0,1271.9 L1959.0,1272.5 L1962.0,1273.1 L1965.0,1273.7 L1968.0,1274.3 L1971.0,1274.8 L1974.0,1275.4 L1977.0,1275.9 L1980.0,1276.4 L1983.0,1276.9 L1986.0,1277.4 L1989.0,1277.9 L1992.0,1278.4 L1995.0,1278.9 L1998.0,1279.3 L2001.0,1279.8 L2004.0,1280.2 L2007.0,1280.7 L2010.0,1281.1 L2013.0,1281.5 L2016.0,1281.9 L2019.0,1282.4 L2022.0,1282.7 L2025.0,1283.1 L2028.0,1283.5 L2031.0,1283.9 L2034.0,1284.3 L2037.0,1284.6 L2040.0,1285.0 L2043.0,1285.4 L2046.0,1285.7 L2049.0,1286.0 L2052.0,1286.4 L2055.0,1286.7 L2058.0,1287.0 L2061.0,1287.3 L2064.0,1287.7 L2067.0,1288.0 L2070.0,1288.3 L2073.0,1288.6 L2076.0,1288.9 L2079.0,1289.1 L2082.0,1289.4 L2085.0,1289.7 L2088.0,1290.0 L2091.0,1290.2 L2094.0,1290.5 L2097.0,1290.8 L2100.0,1291.0 L2103.0,1291.3 L2106.0,1291.5 L2109.0,1291.8 L2112.0,1292.0 L2115.0,1292.3 L2118.0,1292.5 L2121.0,1292.7 L2126.5,1293.1" stroke="#ff0000" stroke-width="5.9"/>
</g>
<g stroke="#1e1e1e" stroke-width="5" stroke-dasharray="19.7 15.58" fill="none">
<line x1="1020.9" y1="23.4" x2="1020.9" y2="1424"/>
<line x1="1582.4" y1="20.2" x2="1582.4" y2="1424"/>
</g>
<g stroke="#000" stroke-width="5.9" fill="none" stroke-linecap="butt">
<path d="M211.6,711.5 V17.8 H2133.8 V711.5"/>
<path d="M211.6,739 V1434.9 H2133.8 V739"/>
<g stroke-width="5.9" stroke-linecap="butt">
<line x1="211.6" y1="1434.9" x2="211.6" y2="1451.8"/>
<line x1="338.8" y1="1434.9" x2="338.8" y2="1465.3"/>
<line x1="467.0" y1="1434.9" x2="467.0" y2="1451.8"/>
<line x1="595.2" y1="1434.9" x2="595.2" y2="1465.3"/>
<line x1="723.4" y1="1434.9" x2="723.4" y2="1451.8"/>
<line x1="851.7" y1="1434.9" x2="851.7" y2="1465.3"/>
<line x1="979.9" y1="1434.9" x2="979.9" y2="1451.8"/>
<line x1="1108.1" y1="1434.9" x2="1108.1" y2="1465.3"/>
<line x1="1236.3" y1="1434.9" x2="1236.3" y2="1451.8"/>
<line x1="1364.5" y1="1434.9" x2="1364.5" y2="1465.3"/>
<line x1="1492.7" y1="1434.9" x2="1492.7" y2="1451.8"/>
<line x1="1620.9" y1="1434.9" x2="1620.9" y2="1465.3"/>
<line x1="1749.2" y1="1434.9" x2="1749.2" y2="1451.8"/>
<line x1="1877.4" y1="1434.9" x2="1877.4" y2="1465.3"/>
<line x1="2005.6" y1="1434.9" x2="2005.6" y2="1451.8"/>
<line x1="2133.8" y1="1434.9" x2="2133.8" y2="1465.3"/>
</g>
<g stroke-width="4.6" stroke-linecap="round">
<line x1="183.2" y1="725.7" x2="238.9" y2="702.7"/>
<line x1="183.2" y1="750.5" x2="238.9" y2="726.7"/>
<line x1="2104.5" y1="726.3" x2="2162.5" y2="702.1"/>
<line x1="2104.5" y1="750.9" x2="2162.5" y2="726.1"/>
</g>
</g>
<g stroke="#000" stroke-width="6.1" fill="none">
<line x1="1689.2" y1="85.8" x2="1831.8" y2="85.8"/>
<line x1="1689.2" y1="162.4" x2="1831.8" y2="162.4" stroke="#ff0000"/>
</g>
<g font-family="'Liberation Sans', Arial, Helvetica, sans-serif" fill="#000">
<g font-size="62.6" text-anchor="middle">
<text x="339.6" y="1530.9" textLength="135.6" lengthAdjust="spacingAndGlyphs">1100</text>
<text x="596.0" y="1530.9" textLength="135.6" lengthAdjust="spacingAndGlyphs">1200</text>
<text x="852.5" y="1530.9" textLength="135.6" lengthAdjust="spacingAndGlyphs">1300</text>
<text x="1108.9" y="1530.9" textLength="135.6" lengthAdjust="spacingAndGlyphs">1400</text>
<text x="1365.3" y="1530.9" textLength="135.6" lengthAdjust="spacingAndGlyphs">1500</text>
<text x="1621.7" y="1530.9" textLength="135.6" lengthAdjust="spacingAndGlyphs">1600</text>
<text x="1878.2" y="1530.9" textLength="135.6" lengthAdjust="spacingAndGlyphs">1700</text>
<text x="2134.6" y="1530.9" textLength="135.6" lengthAdjust="spacingAndGlyphs">1800</text>
</g>
<text x="1846" y="105.2" font-size="62">Exp. data</text>
<text x="1846" y="182.6" font-size="62">Fit data</text>
<text x="861.2" y="1663" font-size="76.3">Raman shift (cm<tspan font-size="42.5" dy="-37.5" dx="1">-1</tspan><tspan dy="37.5" dx="6.5">)</tspan></text>
<text transform="translate(71.4,1003.8) rotate(-90)" font-size="78.9">Intensity (a. u.)</text>
<text transform="translate(968.3,583.6) scale(1,0.86)" font-size="64" font-weight="bold" text-anchor="middle">*</text>
<text x="2158" y="671.2" font-size="62" font-weight="bold" textLength="79" lengthAdjust="spacingAndGlyphs">(b)</text>
<text id="lab-a" y="1443.3" font-weight="bold"><tspan x="2166.4" y="1436.8" font-size="52.7">(</tspan><tspan x="2187.6" y="1443.3" font-size="64" textLength="32" lengthAdjust="spacingAndGlyphs">a</tspan><tspan x="2222.6" y="1436.8" font-size="52.7">)</tspan></text>
</g>
</g>
</svg>
</body>
</html>
